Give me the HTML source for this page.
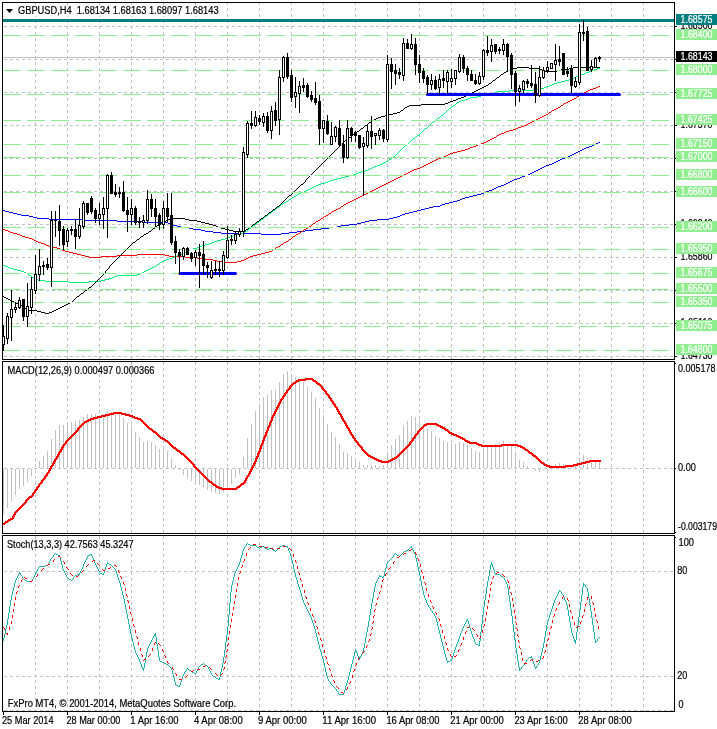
<!DOCTYPE html>
<html><head><meta charset="utf-8"><title>GBPUSD,H4</title><style>html,body{margin:0;padding:0;background:#fff;overflow:hidden}</style></head><body><svg width="717" height="729" viewBox="0 0 717 729" shape-rendering="crispEdges" style="display:block"><rect width="717" height="729" fill="#fff"/><g stroke="#c0c0c0" stroke-width="1" stroke-dasharray="3 3" fill="none"><line x1="35.5" y1="3" x2="35.5" y2="359" stroke-dashoffset="1"/><line x1="67.5" y1="3" x2="67.5" y2="359" stroke-dashoffset="1"/><line x1="99.5" y1="3" x2="99.5" y2="359" stroke-dashoffset="1"/><line x1="131.5" y1="3" x2="131.5" y2="359" stroke-dashoffset="1"/><line x1="163.5" y1="3" x2="163.5" y2="359" stroke-dashoffset="1"/><line x1="195.5" y1="3" x2="195.5" y2="359" stroke-dashoffset="1"/><line x1="227.5" y1="3" x2="227.5" y2="359" stroke-dashoffset="1"/><line x1="259.5" y1="3" x2="259.5" y2="359" stroke-dashoffset="1"/><line x1="291.5" y1="3" x2="291.5" y2="359" stroke-dashoffset="1"/><line x1="323.5" y1="3" x2="323.5" y2="359" stroke-dashoffset="1"/><line x1="355.5" y1="3" x2="355.5" y2="359" stroke-dashoffset="1"/><line x1="387.5" y1="3" x2="387.5" y2="359" stroke-dashoffset="1"/><line x1="419.5" y1="3" x2="419.5" y2="359" stroke-dashoffset="1"/><line x1="451.5" y1="3" x2="451.5" y2="359" stroke-dashoffset="1"/><line x1="483.5" y1="3" x2="483.5" y2="359" stroke-dashoffset="1"/><line x1="515.5" y1="3" x2="515.5" y2="359" stroke-dashoffset="1"/><line x1="547.5" y1="3" x2="547.5" y2="359" stroke-dashoffset="1"/><line x1="579.5" y1="3" x2="579.5" y2="359" stroke-dashoffset="1"/><line x1="611.5" y1="3" x2="611.5" y2="359" stroke-dashoffset="1"/><line x1="643.5" y1="3" x2="643.5" y2="359" stroke-dashoffset="1"/><line x1="35.5" y1="362" x2="35.5" y2="533" stroke-dashoffset="0"/><line x1="67.5" y1="362" x2="67.5" y2="533" stroke-dashoffset="0"/><line x1="99.5" y1="362" x2="99.5" y2="533" stroke-dashoffset="0"/><line x1="131.5" y1="362" x2="131.5" y2="533" stroke-dashoffset="0"/><line x1="163.5" y1="362" x2="163.5" y2="533" stroke-dashoffset="0"/><line x1="195.5" y1="362" x2="195.5" y2="533" stroke-dashoffset="0"/><line x1="227.5" y1="362" x2="227.5" y2="533" stroke-dashoffset="0"/><line x1="259.5" y1="362" x2="259.5" y2="533" stroke-dashoffset="0"/><line x1="291.5" y1="362" x2="291.5" y2="533" stroke-dashoffset="0"/><line x1="323.5" y1="362" x2="323.5" y2="533" stroke-dashoffset="0"/><line x1="355.5" y1="362" x2="355.5" y2="533" stroke-dashoffset="0"/><line x1="387.5" y1="362" x2="387.5" y2="533" stroke-dashoffset="0"/><line x1="419.5" y1="362" x2="419.5" y2="533" stroke-dashoffset="0"/><line x1="451.5" y1="362" x2="451.5" y2="533" stroke-dashoffset="0"/><line x1="483.5" y1="362" x2="483.5" y2="533" stroke-dashoffset="0"/><line x1="515.5" y1="362" x2="515.5" y2="533" stroke-dashoffset="0"/><line x1="547.5" y1="362" x2="547.5" y2="533" stroke-dashoffset="0"/><line x1="579.5" y1="362" x2="579.5" y2="533" stroke-dashoffset="0"/><line x1="611.5" y1="362" x2="611.5" y2="533" stroke-dashoffset="0"/><line x1="643.5" y1="362" x2="643.5" y2="533" stroke-dashoffset="0"/><line x1="35.5" y1="536" x2="35.5" y2="711" stroke-dashoffset="0"/><line x1="67.5" y1="536" x2="67.5" y2="711" stroke-dashoffset="0"/><line x1="99.5" y1="536" x2="99.5" y2="711" stroke-dashoffset="0"/><line x1="131.5" y1="536" x2="131.5" y2="711" stroke-dashoffset="0"/><line x1="163.5" y1="536" x2="163.5" y2="711" stroke-dashoffset="0"/><line x1="195.5" y1="536" x2="195.5" y2="711" stroke-dashoffset="0"/><line x1="227.5" y1="536" x2="227.5" y2="711" stroke-dashoffset="0"/><line x1="259.5" y1="536" x2="259.5" y2="711" stroke-dashoffset="0"/><line x1="291.5" y1="536" x2="291.5" y2="711" stroke-dashoffset="0"/><line x1="323.5" y1="536" x2="323.5" y2="711" stroke-dashoffset="0"/><line x1="355.5" y1="536" x2="355.5" y2="711" stroke-dashoffset="0"/><line x1="387.5" y1="536" x2="387.5" y2="711" stroke-dashoffset="0"/><line x1="419.5" y1="536" x2="419.5" y2="711" stroke-dashoffset="0"/><line x1="451.5" y1="536" x2="451.5" y2="711" stroke-dashoffset="0"/><line x1="483.5" y1="536" x2="483.5" y2="711" stroke-dashoffset="0"/><line x1="515.5" y1="536" x2="515.5" y2="711" stroke-dashoffset="0"/><line x1="547.5" y1="536" x2="547.5" y2="711" stroke-dashoffset="0"/><line x1="579.5" y1="536" x2="579.5" y2="711" stroke-dashoffset="0"/><line x1="611.5" y1="536" x2="611.5" y2="711" stroke-dashoffset="0"/><line x1="643.5" y1="536" x2="643.5" y2="711" stroke-dashoffset="0"/><line x1="3" y1="26.5" x2="674" y2="26.5" stroke-dashoffset="5"/><line x1="3" y1="59.5" x2="674" y2="59.5" stroke-dashoffset="5"/><line x1="3" y1="92.5" x2="674" y2="92.5" stroke-dashoffset="5"/><line x1="3" y1="125.5" x2="674" y2="125.5" stroke-dashoffset="5"/><line x1="3" y1="158.5" x2="674" y2="158.5" stroke-dashoffset="5"/><line x1="3" y1="191.5" x2="674" y2="191.5" stroke-dashoffset="5"/><line x1="3" y1="224.5" x2="674" y2="224.5" stroke-dashoffset="5"/><line x1="3" y1="257.5" x2="674" y2="257.5" stroke-dashoffset="5"/><line x1="3" y1="290.5" x2="674" y2="290.5" stroke-dashoffset="5"/><line x1="3" y1="323.5" x2="674" y2="323.5" stroke-dashoffset="5"/><line x1="3" y1="356.5" x2="674" y2="356.5" stroke-dashoffset="5"/><line x1="3" y1="468.5" x2="674" y2="468.5" stroke-dashoffset="5"/><line x1="3" y1="571.5" x2="674" y2="571.5" stroke-dashoffset="5"/><line x1="3" y1="676.5" x2="674" y2="676.5" stroke-dashoffset="5"/><line x1="3" y1="710.5" x2="674" y2="710.5" stroke-dashoffset="5"/></g><g fill="#fff"><rect x="4" y="5" width="216" height="11"/></g><path d="M598 142h2v1h-2zM596 143h2v1h-2zM594 144h2v1h-2zM592 145h2v1h-2zM589 146h3v1h-3zM586 147h3v1h-3zM584 148h2v1h-2zM582 149h2v1h-2zM580 150h2v1h-2zM578 151h2v1h-2zM576 152h2v1h-2zM574 153h2v1h-2zM572 154h2v1h-2zM570 155h2v1h-2zM568 156h2v1h-2zM565 157h3v1h-3zM562 158h3v1h-3zM560 159h2v1h-2zM558 160h2v1h-2zM556 161h2v1h-2zM554 162h2v1h-2zM552 163h2v1h-2zM549 164h3v1h-3zM546 165h3v1h-3zM544 166h2v1h-2zM542 167h2v1h-2zM540 168h2v1h-2zM538 169h2v1h-2zM536 170h2v1h-2zM534 171h2v1h-2zM532 172h2v1h-2zM530 173h2v1h-2zM528 174h2v1h-2zM525 175h3v1h-3zM522 176h3v1h-3zM520 177h2v1h-2zM517 178h3v1h-3zM514 179h3v1h-3zM512 180h2v1h-2zM510 181h2v1h-2zM508 182h2v1h-2zM506 183h2v1h-2zM504 184h2v1h-2zM501 185h3v1h-3zM498 186h3v1h-3zM496 187h2v1h-2zM494 188h2v1h-2zM492 189h2v1h-2zM489 190h3v1h-3zM486 191h3v1h-3zM484 192h2v1h-2zM481 193h3v1h-3zM477 194h4v1h-4zM473 195h4v1h-4zM469 196h4v1h-4zM465 197h4v1h-4zM462 198h3v1h-3zM460 199h2v1h-2zM457 200h3v1h-3zM453 201h4v1h-4zM449 202h4v1h-4zM445 203h4v1h-4zM442 204h3v1h-3zM440 205h2v1h-2zM433 206h7v1h-7zM429 207h4v1h-4zM425 208h4v1h-4zM421 209h4v1h-4zM3 210h2v1h-2zM417 210h4v1h-4zM5 211h4v1h-4zM413 211h4v1h-4zM9 212h4v1h-4zM409 212h4v1h-4zM13 213h4v1h-4zM405 213h4v1h-4zM17 214h4v1h-4zM402 214h3v1h-3zM21 215h8v1h-8zM400 215h2v1h-2zM29 216h4v1h-4zM397 216h3v1h-3zM33 217h4v1h-4zM393 217h4v1h-4zM37 218h12v1h-12zM389 218h4v1h-4zM49 219h36v1h-36zM377 219h12v1h-12zM85 220h32v1h-32zM369 220h8v1h-8zM117 221h28v1h-28zM365 221h4v1h-4zM145 222h23v1h-23zM361 222h4v1h-4zM168 223h2v1h-2zM357 223h4v1h-4zM170 224h3v1h-3zM349 224h8v1h-8zM173 225h4v1h-4zM341 225h8v1h-8zM177 226h4v1h-4zM337 226h4v1h-4zM181 227h8v1h-8zM329 227h8v1h-8zM189 228h4v1h-4zM321 228h8v1h-8zM193 229h8v1h-8zM313 229h8v1h-8zM201 230h4v1h-4zM305 230h8v1h-8zM205 231h8v1h-8zM297 231h8v1h-8zM213 232h8v1h-8zM289 232h8v1h-8zM221 233h40v1h-40zM281 233h8v1h-8zM261 234h20v1h-20z" fill="#0000ff"/><path d="M598 86h2v1h-2zM596 87h2v1h-2zM593 88h3v1h-3zM590 89h3v1h-3zM588 90h2v1h-2zM586 91h2v1h-2zM584 92h2v1h-2zM582 93h2v1h-2zM580 94h2v1h-2zM579 95h1v1h-1zM577 96h2v1h-2zM576 97h1v1h-1zM574 98h2v1h-2zM572 99h2v1h-2zM570 100h2v1h-2zM568 101h2v1h-2zM566 102h2v1h-2zM564 103h2v1h-2zM563 104h1v1h-1zM561 105h2v1h-2zM560 106h1v1h-1zM558 107h2v1h-2zM556 108h2v1h-2zM554 109h2v1h-2zM552 110h2v1h-2zM551 111h1v1h-1zM549 112h2v1h-2zM548 113h1v1h-1zM546 114h2v1h-2zM544 115h2v1h-2zM542 116h2v1h-2zM540 117h2v1h-2zM538 118h2v1h-2zM536 119h2v1h-2zM534 120h2v1h-2zM532 121h2v1h-2zM530 122h2v1h-2zM528 123h2v1h-2zM526 124h2v1h-2zM524 125h2v1h-2zM521 126h3v1h-3zM518 127h3v1h-3zM516 128h2v1h-2zM513 129h3v1h-3zM509 130h4v1h-4zM506 131h3v1h-3zM504 132h2v1h-2zM501 133h3v1h-3zM499 134h2v1h-2zM497 135h2v1h-2zM496 136h1v1h-1zM494 137h2v1h-2zM492 138h2v1h-2zM490 139h2v1h-2zM488 140h2v1h-2zM486 141h2v1h-2zM484 142h2v1h-2zM481 143h3v1h-3zM478 144h3v1h-3zM476 145h2v1h-2zM473 146h3v1h-3zM470 147h3v1h-3zM468 148h2v1h-2zM465 149h3v1h-3zM461 150h4v1h-4zM457 151h4v1h-4zM453 152h4v1h-4zM450 153h3v1h-3zM448 154h2v1h-2zM446 155h2v1h-2zM444 156h2v1h-2zM441 157h3v1h-3zM438 158h3v1h-3zM436 159h2v1h-2zM434 160h2v1h-2zM432 161h2v1h-2zM430 162h2v1h-2zM428 163h2v1h-2zM426 164h2v1h-2zM424 165h2v1h-2zM422 166h2v1h-2zM420 167h2v1h-2zM417 168h3v1h-3zM414 169h3v1h-3zM412 170h2v1h-2zM410 171h2v1h-2zM408 172h2v1h-2zM406 173h2v1h-2zM404 174h2v1h-2zM402 175h2v1h-2zM400 176h2v1h-2zM398 177h2v1h-2zM396 178h2v1h-2zM394 179h2v1h-2zM392 180h2v1h-2zM390 181h2v1h-2zM388 182h2v1h-2zM386 183h2v1h-2zM384 184h2v1h-2zM382 185h2v1h-2zM380 186h2v1h-2zM378 187h2v1h-2zM376 188h2v1h-2zM374 189h2v1h-2zM372 190h2v1h-2zM370 191h2v1h-2zM368 192h2v1h-2zM366 193h2v1h-2zM364 194h2v1h-2zM362 195h2v1h-2zM360 196h2v1h-2zM358 197h2v1h-2zM356 198h2v1h-2zM354 199h2v1h-2zM352 200h2v1h-2zM350 201h2v1h-2zM348 202h2v1h-2zM346 203h2v1h-2zM344 204h2v1h-2zM343 205h1v1h-1zM341 206h2v1h-2zM340 207h1v1h-1zM338 208h2v1h-2zM336 209h2v1h-2zM334 210h2v1h-2zM332 211h2v1h-2zM331 212h1v1h-1zM329 213h2v1h-2zM328 214h1v1h-1zM326 215h2v1h-2zM324 216h2v1h-2zM323 217h1v1h-1zM321 218h2v1h-2zM320 219h1v1h-1zM318 220h2v1h-2zM316 221h2v1h-2zM315 222h1v1h-1zM313 223h2v1h-2zM312 224h1v1h-1zM311 225h1v1h-1zM309 226h2v1h-2zM308 227h1v1h-1zM306 228h2v1h-2zM3 229h2v1h-2zM304 229h2v1h-2zM5 230h3v1h-3zM303 230h1v1h-1zM8 231h2v1h-2zM301 231h2v1h-2zM10 232h3v1h-3zM300 232h1v1h-1zM13 233h4v1h-4zM298 233h2v1h-2zM17 234h3v1h-3zM296 234h2v1h-2zM20 235h2v1h-2zM295 235h1v1h-1zM22 236h3v1h-3zM293 236h2v1h-2zM25 237h4v1h-4zM292 237h1v1h-1zM29 238h3v1h-3zM291 238h1v1h-1zM32 239h2v1h-2zM289 239h2v1h-2zM34 240h2v1h-2zM288 240h1v1h-1zM36 241h2v1h-2zM286 241h2v1h-2zM38 242h3v1h-3zM284 242h2v1h-2zM41 243h3v1h-3zM283 243h1v1h-1zM44 244h2v1h-2zM281 244h2v1h-2zM46 245h3v1h-3zM280 245h1v1h-1zM49 246h4v1h-4zM278 246h2v1h-2zM53 247h4v1h-4zM276 247h2v1h-2zM57 248h3v1h-3zM275 248h1v1h-1zM60 249h2v1h-2zM273 249h2v1h-2zM62 250h3v1h-3zM272 250h1v1h-1zM65 251h4v1h-4zM269 251h3v1h-3zM69 252h4v1h-4zM265 252h4v1h-4zM73 253h4v1h-4zM261 253h4v1h-4zM77 254h4v1h-4zM137 254h28v1h-28zM257 254h4v1h-4zM81 255h4v1h-4zM117 255h20v1h-20zM165 255h4v1h-4zM253 255h4v1h-4zM85 256h4v1h-4zM101 256h16v1h-16zM169 256h16v1h-16zM250 256h3v1h-3zM89 257h12v1h-12zM185 257h12v1h-12zM248 257h2v1h-2zM197 258h8v1h-8zM246 258h2v1h-2zM205 259h8v1h-8zM244 259h2v1h-2zM213 260h4v1h-4zM241 260h3v1h-3zM217 261h8v1h-8zM237 261h4v1h-4zM225 262h12v1h-12z" fill="#ff0000"/><path d="M597 68h3v1h-3zM594 69h3v1h-3zM592 70h2v1h-2zM589 71h3v1h-3zM586 72h3v1h-3zM584 73h2v1h-2zM581 74h3v1h-3zM578 75h3v1h-3zM576 76h2v1h-2zM574 77h2v1h-2zM572 78h2v1h-2zM569 79h3v1h-3zM565 80h4v1h-4zM561 81h4v1h-4zM557 82h4v1h-4zM554 83h3v1h-3zM552 84h2v1h-2zM549 85h3v1h-3zM546 86h3v1h-3zM544 87h2v1h-2zM541 88h3v1h-3zM533 89h8v1h-8zM509 90h24v1h-24zM497 91h12v1h-12zM494 92h3v1h-3zM492 93h2v1h-2zM485 94h7v1h-7zM481 95h4v1h-4zM477 96h4v1h-4zM470 97h7v1h-7zM468 98h2v1h-2zM465 99h3v1h-3zM461 100h4v1h-4zM459 101h2v1h-2zM457 102h2v1h-2zM456 103h1v1h-1zM455 104h1v1h-1zM453 105h2v1h-2zM452 106h1v1h-1zM451 107h1v1h-1zM449 108h2v1h-2zM448 109h1v1h-1zM447 110h1v1h-1zM446 111h1v1h-1zM445 112h1v1h-1zM444 113h1v1h-1zM443 114h1v1h-1zM441 115h2v1h-2zM440 116h1v1h-1zM439 117h1v1h-1zM437 118h2v1h-2zM436 119h1v1h-1zM435 120h1v1h-1zM433 121h2v1h-2zM432 122h1v1h-1zM431 123h1v1h-1zM430 124h1v1h-1zM429 125h1v1h-1zM428 126h1v1h-1zM427 127h1v1h-1zM425 128h2v1h-2zM424 129h1v1h-1zM423 130h1v1h-1zM422 131h1v1h-1zM421 132h1v1h-1zM420 133h1v1h-1zM419 134h1v1h-1zM417 135h2v1h-2zM416 136h1v1h-1zM415 137h1v1h-1zM413 138h2v1h-2zM412 139h1v1h-1zM411 140h1v1h-1zM410 141h1v1h-1zM409 142h1v1h-1zM408 143h1v1h-1zM407 144h1v1h-1zM405 145h2v1h-2zM404 146h1v1h-1zM403 147h1v1h-1zM402 148h1v1h-1zM401 149h1v1h-1zM400 150h1v1h-1zM399 151h1v1h-1zM398 152h1v1h-1zM397 153h1v1h-1zM396 154h1v1h-1zM395 155h1v1h-1zM393 156h2v1h-2zM392 157h1v1h-1zM391 158h1v1h-1zM389 159h2v1h-2zM388 160h1v1h-1zM386 161h2v1h-2zM384 162h2v1h-2zM382 163h2v1h-2zM380 164h2v1h-2zM377 165h3v1h-3zM374 166h3v1h-3zM372 167h2v1h-2zM370 168h2v1h-2zM368 169h2v1h-2zM365 170h3v1h-3zM361 171h4v1h-4zM358 172h3v1h-3zM356 173h2v1h-2zM353 174h3v1h-3zM349 175h4v1h-4zM345 176h4v1h-4zM341 177h4v1h-4zM337 178h4v1h-4zM333 179h4v1h-4zM330 180h3v1h-3zM328 181h2v1h-2zM325 182h3v1h-3zM321 183h4v1h-4zM318 184h3v1h-3zM316 185h2v1h-2zM314 186h2v1h-2zM312 187h2v1h-2zM310 188h2v1h-2zM308 189h2v1h-2zM306 190h2v1h-2zM304 191h2v1h-2zM301 192h3v1h-3zM299 193h2v1h-2zM297 194h2v1h-2zM296 195h1v1h-1zM294 196h2v1h-2zM292 197h2v1h-2zM291 198h1v1h-1zM289 199h2v1h-2zM288 200h1v1h-1zM286 201h2v1h-2zM284 202h2v1h-2zM283 203h1v1h-1zM281 204h2v1h-2zM280 205h1v1h-1zM279 206h1v1h-1zM277 207h2v1h-2zM276 208h1v1h-1zM275 209h1v1h-1zM273 210h2v1h-2zM272 211h1v1h-1zM271 212h1v1h-1zM269 213h2v1h-2zM268 214h1v1h-1zM267 215h1v1h-1zM265 216h2v1h-2zM264 217h1v1h-1zM263 218h1v1h-1zM261 219h2v1h-2zM260 220h1v1h-1zM259 221h1v1h-1zM257 222h2v1h-2zM256 223h1v1h-1zM255 224h1v1h-1zM253 225h2v1h-2zM252 226h1v1h-1zM251 227h1v1h-1zM249 228h2v1h-2zM248 229h1v1h-1zM247 230h1v1h-1zM245 231h2v1h-2zM244 232h1v1h-1zM241 233h3v1h-3zM237 234h4v1h-4zM233 235h4v1h-4zM230 236h3v1h-3zM228 237h2v1h-2zM225 238h3v1h-3zM221 239h4v1h-4zM217 240h4v1h-4zM214 241h3v1h-3zM212 242h2v1h-2zM209 243h3v1h-3zM205 244h4v1h-4zM202 245h3v1h-3zM200 246h2v1h-2zM197 247h3v1h-3zM193 248h4v1h-4zM190 249h3v1h-3zM188 250h2v1h-2zM186 251h2v1h-2zM184 252h2v1h-2zM182 253h2v1h-2zM180 254h2v1h-2zM177 255h3v1h-3zM174 256h3v1h-3zM172 257h2v1h-2zM169 258h3v1h-3zM166 259h3v1h-3zM164 260h2v1h-2zM162 261h2v1h-2zM160 262h2v1h-2zM159 263h1v1h-1zM157 264h2v1h-2zM3 265h2v1h-2zM156 265h1v1h-1zM5 266h3v1h-3zM154 266h2v1h-2zM8 267h2v1h-2zM152 267h2v1h-2zM10 268h3v1h-3zM150 268h2v1h-2zM13 269h4v1h-4zM148 269h2v1h-2zM17 270h4v1h-4zM146 270h2v1h-2zM21 271h3v1h-3zM144 271h2v1h-2zM24 272h2v1h-2zM142 272h2v1h-2zM26 273h2v1h-2zM140 273h2v1h-2zM28 274h1v1h-1zM137 274h3v1h-3zM29 275h2v1h-2zM117 275h20v1h-20zM31 276h1v1h-1zM114 276h3v1h-3zM32 277h2v1h-2zM112 277h2v1h-2zM34 278h2v1h-2zM109 278h3v1h-3zM36 279h2v1h-2zM105 279h4v1h-4zM38 280h7v1h-7zM101 280h4v1h-4zM45 281h24v1h-24zM89 281h12v1h-12zM69 282h20v1h-20z" fill="#00f07a"/><path d="M517 67h12v1h-12zM573 67h27v1h-27zM513 68h4v1h-4zM529 68h11v1h-11zM569 68h4v1h-4zM510 69h3v1h-3zM540 69h2v1h-2zM561 69h8v1h-8zM508 70h2v1h-2zM542 70h3v1h-3zM557 70h4v1h-4zM506 71h2v1h-2zM545 71h12v1h-12zM504 72h2v1h-2zM503 73h1v1h-1zM501 74h2v1h-2zM500 75h1v1h-1zM499 76h1v1h-1zM497 77h2v1h-2zM496 78h1v1h-1zM495 79h1v1h-1zM493 80h2v1h-2zM492 81h1v1h-1zM491 82h1v1h-1zM489 83h2v1h-2zM488 84h1v1h-1zM486 85h2v1h-2zM484 86h2v1h-2zM482 87h2v1h-2zM480 88h2v1h-2zM478 89h2v1h-2zM476 90h2v1h-2zM474 91h2v1h-2zM472 92h2v1h-2zM470 93h2v1h-2zM468 94h2v1h-2zM466 95h2v1h-2zM464 96h2v1h-2zM461 97h3v1h-3zM458 98h3v1h-3zM456 99h2v1h-2zM453 100h3v1h-3zM450 101h3v1h-3zM448 102h2v1h-2zM445 103h3v1h-3zM421 104h24v1h-24zM409 105h12v1h-12zM407 106h2v1h-2zM405 107h2v1h-2zM404 108h1v1h-1zM403 109h1v1h-1zM401 110h2v1h-2zM400 111h1v1h-1zM397 112h3v1h-3zM393 113h4v1h-4zM389 114h4v1h-4zM385 115h4v1h-4zM381 116h4v1h-4zM378 117h3v1h-3zM376 118h2v1h-2zM374 119h2v1h-2zM372 120h2v1h-2zM371 121h1v1h-1zM369 122h2v1h-2zM368 123h1v1h-1zM367 124h1v1h-1zM365 125h2v1h-2zM364 126h1v1h-1zM363 127h1v1h-1zM361 128h2v1h-2zM360 129h1v1h-1zM359 130h1v1h-1zM357 131h2v1h-2zM356 132h1v1h-1zM355 133h1v1h-1zM353 134h2v1h-2zM352 135h1v1h-1zM351 136h1v1h-1zM349 137h2v1h-2zM348 138h1v1h-1zM347 139h1v1h-1zM345 140h2v1h-2zM344 141h1v1h-1zM343 142h1v1h-1zM342 143h1v1h-1zM341 144h1v1h-1zM340 145h1v1h-1zM339 146h1v1h-1zM338 147h1v1h-1zM337 148h1v1h-1zM336 149h1v1h-1zM335 150h1v1h-1zM334 151h1v1h-1zM333 152h1v1h-1zM332 153h1v1h-1zM331 154h1v1h-1zM330 155h1v1h-1zM329 156h1v1h-1zM328 157h1v1h-1zM327 158h1v1h-1zM326 159h1v1h-1zM325 160h1v1h-1zM324 161h1v1h-1zM323 162h1v1h-1zM322 163h1v1h-1zM321 164h1v1h-1zM320 165h1v1h-1zM319 166h1v1h-1zM318 167h1v1h-1zM317 168h1v1h-1zM316 169h1v1h-1zM315 170h1v1h-1zM314 171h1v1h-1zM313 172h1v1h-1zM312 173h1v1h-1zM311 174h1v1h-1zM310 175h1v1h-1zM309 176h1v1h-1zM308 177h1v1h-1zM307 178h1v1h-1zM306 179h1v1h-1zM305 180h1v1h-1zM305 181h1v1h-1zM304 182h1v1h-1zM303 183h1v1h-1zM301 184h2v1h-2zM300 185h1v1h-1zM299 186h1v1h-1zM298 187h1v1h-1zM297 188h1v1h-1zM296 189h1v1h-1zM295 190h1v1h-1zM294 191h1v1h-1zM293 192h1v1h-1zM292 193h1v1h-1zM291 194h1v1h-1zM289 195h2v1h-2zM288 196h1v1h-1zM287 197h1v1h-1zM286 198h1v1h-1zM285 199h1v1h-1zM284 200h1v1h-1zM283 201h1v1h-1zM282 202h1v1h-1zM281 203h1v1h-1zM280 204h1v1h-1zM279 205h1v1h-1zM277 206h2v1h-2zM276 207h1v1h-1zM275 208h1v1h-1zM273 209h2v1h-2zM272 210h1v1h-1zM271 211h1v1h-1zM269 212h2v1h-2zM268 213h1v1h-1zM267 214h1v1h-1zM265 215h2v1h-2zM264 216h1v1h-1zM263 217h1v1h-1zM170 218h15v1h-15zM261 218h2v1h-2zM168 219h2v1h-2zM185 219h4v1h-4zM260 219h1v1h-1zM166 220h2v1h-2zM189 220h8v1h-8zM259 220h1v1h-1zM164 221h2v1h-2zM197 221h4v1h-4zM257 221h2v1h-2zM162 222h2v1h-2zM201 222h4v1h-4zM256 222h1v1h-1zM160 223h2v1h-2zM205 223h4v1h-4zM255 223h1v1h-1zM159 224h1v1h-1zM209 224h4v1h-4zM253 224h2v1h-2zM157 225h2v1h-2zM213 225h3v1h-3zM252 225h1v1h-1zM156 226h1v1h-1zM216 226h2v1h-2zM251 226h1v1h-1zM155 227h1v1h-1zM218 227h3v1h-3zM249 227h2v1h-2zM153 228h2v1h-2zM221 228h4v1h-4zM248 228h1v1h-1zM152 229h1v1h-1zM225 229h4v1h-4zM246 229h2v1h-2zM151 230h1v1h-1zM229 230h4v1h-4zM244 230h2v1h-2zM149 231h2v1h-2zM233 231h11v1h-11zM148 232h1v1h-1zM146 233h2v1h-2zM144 234h2v1h-2zM143 235h1v1h-1zM141 236h2v1h-2zM140 237h1v1h-1zM139 238h1v1h-1zM137 239h2v1h-2zM136 240h1v1h-1zM135 241h1v1h-1zM133 242h2v1h-2zM132 243h1v1h-1zM131 244h1v1h-1zM130 245h1v1h-1zM129 246h1v1h-1zM128 247h1v1h-1zM127 248h1v1h-1zM126 249h1v1h-1zM125 250h1v1h-1zM124 251h1v1h-1zM123 252h1v1h-1zM122 253h1v1h-1zM121 254h1v1h-1zM120 255h1v1h-1zM119 256h1v1h-1zM118 257h1v1h-1zM117 258h1v1h-1zM116 259h1v1h-1zM115 260h1v1h-1zM114 261h1v1h-1zM113 262h1v1h-1zM112 263h1v1h-1zM111 264h1v1h-1zM110 265h1v1h-1zM109 266h1v1h-1zM109 267h1v1h-1zM108 268h1v1h-1zM107 269h1v1h-1zM106 270h1v1h-1zM105 271h1v1h-1zM105 272h1v1h-1zM104 273h1v1h-1zM103 274h1v1h-1zM102 275h1v1h-1zM101 276h1v1h-1zM100 277h1v1h-1zM99 278h1v1h-1zM98 279h1v1h-1zM97 280h1v1h-1zM96 281h1v1h-1zM95 282h1v1h-1zM94 283h1v1h-1zM93 284h1v1h-1zM92 285h1v1h-1zM91 286h1v1h-1zM89 287h2v1h-2zM88 288h1v1h-1zM87 289h1v1h-1zM85 290h2v1h-2zM84 291h1v1h-1zM83 292h1v1h-1zM81 293h2v1h-2zM80 294h1v1h-1zM79 295h1v1h-1zM3 296h1v1h-1zM77 296h2v1h-2zM4 297h2v1h-2zM76 297h1v1h-1zM6 298h2v1h-2zM75 298h1v1h-1zM8 299h2v1h-2zM74 299h1v1h-1zM10 300h2v1h-2zM73 300h1v1h-1zM12 301h2v1h-2zM72 301h1v1h-1zM14 302h2v1h-2zM70 302h2v1h-2zM16 303h2v1h-2zM68 303h2v1h-2zM18 304h2v1h-2zM66 304h2v1h-2zM20 305h2v1h-2zM64 305h2v1h-2zM22 306h2v1h-2zM62 306h2v1h-2zM24 307h1v1h-1zM60 307h2v1h-2zM25 308h2v1h-2zM58 308h2v1h-2zM27 309h2v1h-2zM56 309h2v1h-2zM29 310h8v1h-8zM54 310h2v1h-2zM37 311h4v1h-4zM52 311h2v1h-2zM41 312h4v1h-4zM49 312h3v1h-3zM45 313h4v1h-4z" fill="#000000"/><g fill="#fff"><rect x="3" y="35" width="671" height="1"/><rect x="3" y="70" width="671" height="1"/><rect x="3" y="94" width="671" height="1"/><rect x="3" y="120" width="671" height="1"/><rect x="3" y="144" width="671" height="1"/><rect x="3" y="157" width="671" height="1"/><rect x="3" y="175" width="671" height="1"/><rect x="3" y="192" width="671" height="1"/><rect x="3" y="227" width="671" height="1"/><rect x="3" y="249" width="671" height="1"/><rect x="3" y="273" width="671" height="1"/><rect x="3" y="289" width="671" height="1"/><rect x="3" y="302" width="671" height="1"/><rect x="3" y="326" width="671" height="1"/><rect x="3" y="350" width="671" height="1"/></g><g stroke="#90ee90" stroke-width="1" stroke-dasharray="18 6" fill="none"><line x1="3" y1="35.5" x2="674" y2="35.5"/><line x1="3" y1="70.5" x2="674" y2="70.5"/><line x1="3" y1="94.5" x2="674" y2="94.5"/><line x1="3" y1="120.5" x2="674" y2="120.5"/><line x1="3" y1="144.5" x2="674" y2="144.5"/><line x1="3" y1="157.5" x2="674" y2="157.5"/><line x1="3" y1="175.5" x2="674" y2="175.5"/><line x1="3" y1="192.5" x2="674" y2="192.5"/><line x1="3" y1="227.5" x2="674" y2="227.5"/><line x1="3" y1="249.5" x2="674" y2="249.5"/><line x1="3" y1="273.5" x2="674" y2="273.5"/><line x1="3" y1="289.5" x2="674" y2="289.5"/><line x1="3" y1="302.5" x2="674" y2="302.5"/><line x1="3" y1="326.5" x2="674" y2="326.5"/><line x1="3" y1="350.5" x2="674" y2="350.5"/></g><rect x="3" y="57" width="671" height="1" fill="#c0c0c0"/><rect x="3" y="19" width="671" height="3" fill="#008080"/><g stroke="#0000ff" stroke-width="3" stroke-linecap="round" shape-rendering="auto"><line x1="180" y1="273.5" x2="235.5" y2="273.5"/><line x1="427.5" y1="94.5" x2="619.5" y2="94.5"/></g><g fill="#000"><rect x="3" y="325" width="1" height="26"/><rect x="2" y="336" width="3" height="9"/><rect x="3" y="337" width="1" height="7" fill="#fff"/><rect x="7" y="313" width="1" height="31"/><rect x="6" y="316" width="3" height="23"/><rect x="7" y="317" width="1" height="21" fill="#fff"/><rect x="11" y="290" width="1" height="51"/><rect x="10" y="309" width="3" height="9"/><rect x="11" y="310" width="1" height="7" fill="#fff"/><rect x="15" y="302" width="1" height="11"/><rect x="14" y="307" width="3" height="3"/><rect x="15" y="308" width="1" height="1" fill="#fff"/><rect x="19" y="297" width="1" height="12"/><rect x="18" y="300" width="3" height="8"/><rect x="19" y="301" width="1" height="6" fill="#fff"/><rect x="23" y="299" width="1" height="22"/><rect x="22" y="299" width="3" height="18"/><rect x="27" y="283" width="1" height="44"/><rect x="26" y="306" width="3" height="11"/><rect x="27" y="307" width="1" height="9" fill="#fff"/><rect x="31" y="277" width="1" height="37"/><rect x="30" y="289" width="3" height="19"/><rect x="31" y="290" width="1" height="17" fill="#fff"/><rect x="35" y="255" width="1" height="39"/><rect x="34" y="274" width="3" height="17"/><rect x="35" y="275" width="1" height="15" fill="#fff"/><rect x="39" y="249" width="1" height="32"/><rect x="38" y="266" width="3" height="9"/><rect x="39" y="267" width="1" height="7" fill="#fff"/><rect x="43" y="261" width="1" height="14"/><rect x="42" y="265" width="3" height="2"/><rect x="47" y="258" width="1" height="12"/><rect x="46" y="264" width="3" height="4"/><rect x="51" y="211" width="1" height="76"/><rect x="50" y="220" width="3" height="48"/><rect x="51" y="221" width="1" height="46" fill="#fff"/><rect x="55" y="211" width="1" height="26"/><rect x="54" y="220" width="3" height="1"/><rect x="59" y="205" width="1" height="41"/><rect x="58" y="221" width="3" height="10"/><rect x="63" y="226" width="1" height="24"/><rect x="62" y="229" width="3" height="16"/><rect x="67" y="228" width="1" height="19"/><rect x="66" y="230" width="3" height="12"/><rect x="67" y="231" width="1" height="10" fill="#fff"/><rect x="71" y="226" width="1" height="9"/><rect x="70" y="229" width="3" height="2"/><rect x="75" y="220" width="1" height="29"/><rect x="74" y="229" width="3" height="8"/><rect x="79" y="208" width="1" height="31"/><rect x="78" y="225" width="3" height="12"/><rect x="79" y="226" width="1" height="10" fill="#fff"/><rect x="83" y="201" width="1" height="28"/><rect x="82" y="203" width="3" height="24"/><rect x="83" y="204" width="1" height="22" fill="#fff"/><rect x="87" y="203" width="1" height="12"/><rect x="86" y="203" width="3" height="10"/><rect x="91" y="196" width="1" height="18"/><rect x="90" y="198" width="3" height="14"/><rect x="95" y="208" width="1" height="15"/><rect x="94" y="210" width="3" height="9"/><rect x="99" y="203" width="1" height="22"/><rect x="98" y="214" width="3" height="5"/><rect x="99" y="215" width="1" height="3" fill="#fff"/><rect x="103" y="197" width="1" height="32"/><rect x="102" y="208" width="3" height="7"/><rect x="103" y="209" width="1" height="5" fill="#fff"/><rect x="107" y="174" width="1" height="64"/><rect x="106" y="175" width="3" height="34"/><rect x="107" y="176" width="1" height="32" fill="#fff"/><rect x="111" y="172" width="1" height="22"/><rect x="110" y="175" width="3" height="19"/><rect x="115" y="184" width="1" height="13"/><rect x="114" y="192" width="3" height="3"/><rect x="119" y="187" width="1" height="11"/><rect x="118" y="192" width="3" height="2"/><rect x="123" y="181" width="1" height="31"/><rect x="122" y="192" width="3" height="19"/><rect x="127" y="197" width="1" height="35"/><rect x="126" y="210" width="3" height="5"/><rect x="131" y="199" width="1" height="26"/><rect x="130" y="208" width="3" height="7"/><rect x="131" y="209" width="1" height="5" fill="#fff"/><rect x="135" y="206" width="1" height="19"/><rect x="134" y="208" width="3" height="15"/><rect x="139" y="217" width="1" height="11"/><rect x="138" y="221" width="3" height="2"/><rect x="143" y="215" width="1" height="13"/><rect x="142" y="220" width="3" height="3"/><rect x="143" y="221" width="1" height="1" fill="#fff"/><rect x="147" y="190" width="1" height="34"/><rect x="146" y="199" width="3" height="22"/><rect x="147" y="200" width="1" height="20" fill="#fff"/><rect x="151" y="194" width="1" height="23"/><rect x="150" y="199" width="3" height="10"/><rect x="155" y="199" width="1" height="28"/><rect x="154" y="208" width="3" height="9"/><rect x="159" y="213" width="1" height="17"/><rect x="158" y="215" width="3" height="10"/><rect x="163" y="201" width="1" height="28"/><rect x="162" y="208" width="3" height="17"/><rect x="163" y="209" width="1" height="15" fill="#fff"/><rect x="167" y="193" width="1" height="29"/><rect x="166" y="208" width="3" height="9"/><rect x="171" y="193" width="1" height="52"/><rect x="170" y="215" width="3" height="28"/><rect x="175" y="236" width="1" height="28"/><rect x="174" y="241" width="3" height="12"/><rect x="179" y="249" width="1" height="25"/><rect x="178" y="252" width="3" height="4"/><rect x="183" y="247" width="1" height="13"/><rect x="182" y="248" width="3" height="9"/><rect x="183" y="249" width="1" height="7" fill="#fff"/><rect x="187" y="247" width="1" height="8"/><rect x="186" y="248" width="3" height="7"/><rect x="191" y="252" width="1" height="10"/><rect x="190" y="253" width="3" height="6"/><rect x="195" y="250" width="1" height="16"/><rect x="194" y="252" width="3" height="6"/><rect x="195" y="253" width="1" height="4" fill="#fff"/><rect x="199" y="244" width="1" height="44"/><rect x="198" y="252" width="3" height="4"/><rect x="203" y="241" width="1" height="34"/><rect x="202" y="254" width="3" height="12"/><rect x="207" y="262" width="1" height="16"/><rect x="206" y="265" width="3" height="3"/><rect x="211" y="261" width="1" height="18"/><rect x="210" y="270" width="3" height="8"/><rect x="211" y="271" width="1" height="6" fill="#fff"/><rect x="215" y="261" width="1" height="14"/><rect x="214" y="269" width="3" height="2"/><rect x="219" y="261" width="1" height="16"/><rect x="218" y="269" width="3" height="2"/><rect x="223" y="251" width="1" height="24"/><rect x="222" y="255" width="3" height="16"/><rect x="223" y="256" width="1" height="14" fill="#fff"/><rect x="227" y="226" width="1" height="33"/><rect x="226" y="240" width="3" height="18"/><rect x="227" y="241" width="1" height="16" fill="#fff"/><rect x="231" y="235" width="1" height="10"/><rect x="230" y="239" width="3" height="2"/><rect x="235" y="232" width="1" height="12"/><rect x="234" y="234" width="3" height="7"/><rect x="235" y="235" width="1" height="5" fill="#fff"/><rect x="239" y="228" width="1" height="9"/><rect x="238" y="231" width="3" height="4"/><rect x="239" y="232" width="1" height="2" fill="#fff"/><rect x="243" y="147" width="1" height="90"/><rect x="242" y="152" width="3" height="80"/><rect x="243" y="153" width="1" height="78" fill="#fff"/><rect x="247" y="121" width="1" height="37"/><rect x="246" y="123" width="3" height="32"/><rect x="247" y="124" width="1" height="30" fill="#fff"/><rect x="251" y="111" width="1" height="18"/><rect x="250" y="123" width="3" height="3"/><rect x="255" y="111" width="1" height="16"/><rect x="254" y="117" width="3" height="9"/><rect x="255" y="118" width="1" height="7" fill="#fff"/><rect x="259" y="115" width="1" height="10"/><rect x="258" y="118" width="3" height="4"/><rect x="263" y="113" width="1" height="14"/><rect x="262" y="116" width="3" height="7"/><rect x="263" y="117" width="1" height="5" fill="#fff"/><rect x="267" y="112" width="1" height="21"/><rect x="266" y="116" width="3" height="15"/><rect x="271" y="106" width="1" height="33"/><rect x="270" y="111" width="3" height="20"/><rect x="271" y="112" width="1" height="18" fill="#fff"/><rect x="275" y="102" width="1" height="24"/><rect x="274" y="110" width="3" height="11"/><rect x="279" y="70" width="1" height="65"/><rect x="278" y="77" width="3" height="43"/><rect x="279" y="78" width="1" height="41" fill="#fff"/><rect x="283" y="56" width="1" height="26"/><rect x="282" y="57" width="3" height="21"/><rect x="283" y="58" width="1" height="19" fill="#fff"/><rect x="287" y="53" width="1" height="26"/><rect x="286" y="57" width="3" height="20"/><rect x="291" y="70" width="1" height="32"/><rect x="290" y="75" width="3" height="23"/><rect x="295" y="77" width="1" height="31"/><rect x="294" y="92" width="3" height="5"/><rect x="295" y="93" width="1" height="3" fill="#fff"/><rect x="299" y="81" width="1" height="32"/><rect x="298" y="86" width="3" height="8"/><rect x="299" y="87" width="1" height="6" fill="#fff"/><rect x="303" y="78" width="1" height="14"/><rect x="302" y="85" width="3" height="3"/><rect x="307" y="83" width="1" height="15"/><rect x="306" y="85" width="3" height="12"/><rect x="311" y="91" width="1" height="11"/><rect x="310" y="95" width="3" height="5"/><rect x="315" y="82" width="1" height="23"/><rect x="314" y="98" width="3" height="5"/><rect x="319" y="95" width="1" height="50"/><rect x="318" y="101" width="3" height="28"/><rect x="323" y="120" width="1" height="23"/><rect x="322" y="120" width="3" height="9"/><rect x="323" y="121" width="1" height="7" fill="#fff"/><rect x="327" y="115" width="1" height="20"/><rect x="326" y="121" width="3" height="13"/><rect x="331" y="122" width="1" height="23"/><rect x="330" y="136" width="3" height="9"/><rect x="331" y="137" width="1" height="7" fill="#fff"/><rect x="335" y="126" width="1" height="16"/><rect x="334" y="127" width="3" height="10"/><rect x="335" y="128" width="1" height="8" fill="#fff"/><rect x="339" y="120" width="1" height="26"/><rect x="338" y="128" width="3" height="17"/><rect x="343" y="135" width="1" height="28"/><rect x="342" y="144" width="3" height="14"/><rect x="347" y="120" width="1" height="39"/><rect x="346" y="128" width="3" height="30"/><rect x="347" y="129" width="1" height="28" fill="#fff"/><rect x="351" y="127" width="1" height="15"/><rect x="350" y="128" width="3" height="8"/><rect x="355" y="131" width="1" height="11"/><rect x="354" y="132" width="3" height="4"/><rect x="359" y="135" width="1" height="14"/><rect x="358" y="135" width="3" height="13"/><rect x="363" y="137" width="1" height="59"/><rect x="362" y="143" width="3" height="4"/><rect x="363" y="144" width="1" height="2" fill="#fff"/><rect x="367" y="125" width="1" height="23"/><rect x="366" y="131" width="3" height="15"/><rect x="367" y="132" width="1" height="13" fill="#fff"/><rect x="371" y="116" width="1" height="33"/><rect x="370" y="131" width="3" height="6"/><rect x="375" y="133" width="1" height="12"/><rect x="374" y="133" width="3" height="3"/><rect x="375" y="134" width="1" height="1" fill="#fff"/><rect x="379" y="128" width="1" height="12"/><rect x="378" y="130" width="3" height="6"/><rect x="379" y="131" width="1" height="4" fill="#fff"/><rect x="383" y="129" width="1" height="13"/><rect x="382" y="130" width="3" height="9"/><rect x="387" y="55" width="1" height="87"/><rect x="386" y="64" width="3" height="76"/><rect x="387" y="65" width="1" height="74" fill="#fff"/><rect x="391" y="58" width="1" height="31"/><rect x="390" y="64" width="3" height="8"/><rect x="395" y="64" width="1" height="21"/><rect x="394" y="70" width="3" height="4"/><rect x="399" y="68" width="1" height="11"/><rect x="398" y="72" width="3" height="3"/><rect x="403" y="38" width="1" height="43"/><rect x="402" y="43" width="3" height="33"/><rect x="403" y="44" width="1" height="31" fill="#fff"/><rect x="407" y="39" width="1" height="10"/><rect x="406" y="43" width="3" height="6"/><rect x="411" y="34" width="1" height="16"/><rect x="410" y="44" width="3" height="5"/><rect x="411" y="45" width="1" height="3" fill="#fff"/><rect x="415" y="38" width="1" height="37"/><rect x="414" y="44" width="3" height="21"/><rect x="419" y="55" width="1" height="28"/><rect x="418" y="64" width="3" height="9"/><rect x="423" y="68" width="1" height="15"/><rect x="422" y="71" width="3" height="8"/><rect x="427" y="75" width="1" height="20"/><rect x="426" y="77" width="3" height="8"/><rect x="431" y="74" width="1" height="16"/><rect x="430" y="80" width="3" height="5"/><rect x="431" y="81" width="1" height="3" fill="#fff"/><rect x="435" y="76" width="1" height="14"/><rect x="434" y="80" width="3" height="9"/><rect x="439" y="74" width="1" height="21"/><rect x="438" y="79" width="3" height="9"/><rect x="439" y="80" width="1" height="7" fill="#fff"/><rect x="443" y="70" width="1" height="18"/><rect x="442" y="78" width="3" height="3"/><rect x="447" y="70" width="1" height="24"/><rect x="446" y="72" width="3" height="10"/><rect x="447" y="73" width="1" height="8" fill="#fff"/><rect x="451" y="69" width="1" height="19"/><rect x="450" y="78" width="3" height="4"/><rect x="451" y="79" width="1" height="2" fill="#fff"/><rect x="455" y="70" width="1" height="15"/><rect x="454" y="70" width="3" height="9"/><rect x="455" y="71" width="1" height="7" fill="#fff"/><rect x="459" y="54" width="1" height="19"/><rect x="458" y="57" width="3" height="15"/><rect x="459" y="58" width="1" height="13" fill="#fff"/><rect x="463" y="55" width="1" height="18"/><rect x="462" y="57" width="3" height="12"/><rect x="467" y="66" width="1" height="15"/><rect x="466" y="68" width="3" height="7"/><rect x="471" y="70" width="1" height="11"/><rect x="470" y="74" width="3" height="7"/><rect x="475" y="74" width="1" height="11"/><rect x="474" y="80" width="3" height="4"/><rect x="479" y="72" width="1" height="13"/><rect x="478" y="76" width="3" height="8"/><rect x="479" y="77" width="1" height="6" fill="#fff"/><rect x="483" y="49" width="1" height="31"/><rect x="482" y="50" width="3" height="27"/><rect x="483" y="51" width="1" height="25" fill="#fff"/><rect x="487" y="36" width="1" height="20"/><rect x="486" y="50" width="3" height="3"/><rect x="491" y="39" width="1" height="23"/><rect x="490" y="45" width="3" height="7"/><rect x="491" y="46" width="1" height="5" fill="#fff"/><rect x="495" y="44" width="1" height="10"/><rect x="494" y="44" width="3" height="8"/><rect x="499" y="47" width="1" height="7"/><rect x="498" y="49" width="3" height="2"/><rect x="503" y="39" width="1" height="16"/><rect x="502" y="44" width="3" height="7"/><rect x="503" y="45" width="1" height="5" fill="#fff"/><rect x="507" y="43" width="1" height="29"/><rect x="506" y="44" width="3" height="13"/><rect x="511" y="53" width="1" height="36"/><rect x="510" y="55" width="3" height="20"/><rect x="515" y="71" width="1" height="35"/><rect x="514" y="73" width="3" height="19"/><rect x="519" y="85" width="1" height="17"/><rect x="518" y="88" width="3" height="4"/><rect x="519" y="89" width="1" height="2" fill="#fff"/><rect x="523" y="80" width="1" height="14"/><rect x="522" y="81" width="3" height="9"/><rect x="523" y="82" width="1" height="7" fill="#fff"/><rect x="527" y="79" width="1" height="9"/><rect x="526" y="81" width="3" height="3"/><rect x="531" y="65" width="1" height="23"/><rect x="530" y="83" width="3" height="3"/><rect x="535" y="72" width="1" height="31"/><rect x="534" y="84" width="3" height="12"/><rect x="539" y="66" width="1" height="31"/><rect x="538" y="77" width="3" height="19"/><rect x="539" y="78" width="1" height="17" fill="#fff"/><rect x="543" y="67" width="1" height="12"/><rect x="542" y="70" width="3" height="8"/><rect x="543" y="71" width="1" height="6" fill="#fff"/><rect x="547" y="61" width="1" height="12"/><rect x="546" y="67" width="3" height="4"/><rect x="547" y="68" width="1" height="2" fill="#fff"/><rect x="551" y="63" width="1" height="6"/><rect x="550" y="63" width="3" height="6"/><rect x="551" y="64" width="1" height="4" fill="#fff"/><rect x="555" y="44" width="1" height="37"/><rect x="554" y="60" width="3" height="5"/><rect x="555" y="61" width="1" height="3" fill="#fff"/><rect x="559" y="46" width="1" height="20"/><rect x="558" y="59" width="3" height="3"/><rect x="563" y="53" width="1" height="22"/><rect x="562" y="53" width="3" height="22"/><rect x="567" y="67" width="1" height="10"/><rect x="566" y="71" width="3" height="3"/><rect x="571" y="65" width="1" height="28"/><rect x="570" y="68" width="3" height="18"/><rect x="575" y="77" width="1" height="11"/><rect x="574" y="81" width="3" height="6"/><rect x="575" y="82" width="1" height="4" fill="#fff"/><rect x="579" y="24" width="1" height="61"/><rect x="578" y="32" width="3" height="51"/><rect x="579" y="33" width="1" height="49" fill="#fff"/><rect x="583" y="20" width="1" height="21"/><rect x="582" y="32" width="3" height="2"/><rect x="587" y="27" width="1" height="44"/><rect x="586" y="31" width="3" height="40"/><rect x="591" y="60" width="1" height="12"/><rect x="590" y="66" width="3" height="4"/><rect x="591" y="67" width="1" height="2" fill="#fff"/><rect x="595" y="57" width="1" height="11"/><rect x="594" y="58" width="3" height="10"/><rect x="595" y="59" width="1" height="8" fill="#fff"/><rect x="599" y="56" width="1" height="6"/><rect x="598" y="57" width="3" height="2"/></g><g fill="#c0c0c0"><rect x="3" y="469" width="1" height="45"/><rect x="7" y="469" width="1" height="39"/><rect x="11" y="469" width="1" height="32"/><rect x="15" y="469" width="1" height="26"/><rect x="19" y="469" width="1" height="20"/><rect x="23" y="469" width="1" height="17"/><rect x="27" y="469" width="1" height="13"/><rect x="31" y="469" width="1" height="7"/><rect x="39" y="461" width="1" height="7"/><rect x="43" y="456" width="1" height="12"/><rect x="47" y="451" width="1" height="17"/><rect x="51" y="439" width="1" height="29"/><rect x="55" y="430" width="1" height="38"/><rect x="59" y="425" width="1" height="43"/><rect x="63" y="425" width="1" height="43"/><rect x="67" y="422" width="1" height="46"/><rect x="71" y="422" width="1" height="46"/><rect x="75" y="421" width="1" height="47"/><rect x="79" y="420" width="1" height="48"/><rect x="83" y="417" width="1" height="51"/><rect x="87" y="414" width="1" height="54"/><rect x="91" y="414" width="1" height="54"/><rect x="95" y="414" width="1" height="54"/><rect x="99" y="415" width="1" height="53"/><rect x="103" y="414" width="1" height="54"/><rect x="107" y="412" width="1" height="56"/><rect x="111" y="412" width="1" height="56"/><rect x="115" y="412" width="1" height="56"/><rect x="119" y="414" width="1" height="54"/><rect x="123" y="418" width="1" height="50"/><rect x="127" y="423" width="1" height="45"/><rect x="131" y="426" width="1" height="42"/><rect x="135" y="432" width="1" height="36"/><rect x="139" y="437" width="1" height="31"/><rect x="143" y="442" width="1" height="26"/><rect x="147" y="441" width="1" height="27"/><rect x="151" y="442" width="1" height="26"/><rect x="155" y="445" width="1" height="23"/><rect x="159" y="449" width="1" height="19"/><rect x="163" y="446" width="1" height="22"/><rect x="167" y="451" width="1" height="17"/><rect x="171" y="458" width="1" height="10"/><rect x="175" y="465" width="1" height="3"/><rect x="179" y="469" width="1" height="1"/><rect x="183" y="469" width="1" height="6"/><rect x="187" y="469" width="1" height="9"/><rect x="191" y="469" width="1" height="12"/><rect x="195" y="469" width="1" height="14"/><rect x="199" y="469" width="1" height="16"/><rect x="203" y="469" width="1" height="18"/><rect x="207" y="469" width="1" height="21"/><rect x="211" y="469" width="1" height="23"/><rect x="215" y="469" width="1" height="24"/><rect x="219" y="469" width="1" height="25"/><rect x="223" y="469" width="1" height="23"/><rect x="227" y="469" width="1" height="19"/><rect x="231" y="469" width="1" height="15"/><rect x="235" y="469" width="1" height="9"/><rect x="239" y="469" width="1" height="5"/><rect x="243" y="457" width="1" height="11"/><rect x="247" y="438" width="1" height="30"/><rect x="251" y="424" width="1" height="44"/><rect x="255" y="411" width="1" height="57"/><rect x="259" y="404" width="1" height="64"/><rect x="263" y="397" width="1" height="71"/><rect x="267" y="395" width="1" height="73"/><rect x="271" y="390" width="1" height="78"/><rect x="275" y="390" width="1" height="78"/><rect x="279" y="382" width="1" height="86"/><rect x="283" y="374" width="1" height="94"/><rect x="287" y="371" width="1" height="97"/><rect x="291" y="374" width="1" height="94"/><rect x="295" y="377" width="1" height="91"/><rect x="299" y="380" width="1" height="88"/><rect x="303" y="382" width="1" height="86"/><rect x="307" y="387" width="1" height="81"/><rect x="311" y="392" width="1" height="76"/><rect x="315" y="398" width="1" height="70"/><rect x="319" y="408" width="1" height="60"/><rect x="323" y="415" width="1" height="53"/><rect x="327" y="424" width="1" height="44"/><rect x="331" y="432" width="1" height="36"/><rect x="335" y="437" width="1" height="31"/><rect x="339" y="444" width="1" height="24"/><rect x="343" y="452" width="1" height="16"/><rect x="347" y="453" width="1" height="15"/><rect x="351" y="456" width="1" height="12"/><rect x="355" y="458" width="1" height="10"/><rect x="359" y="462" width="1" height="6"/><rect x="363" y="465" width="1" height="3"/><rect x="367" y="465" width="1" height="3"/><rect x="371" y="465" width="1" height="3"/><rect x="375" y="465" width="1" height="3"/><rect x="379" y="466" width="1" height="2"/><rect x="383" y="465" width="1" height="3"/><rect x="387" y="452" width="1" height="16"/><rect x="391" y="445" width="1" height="23"/><rect x="395" y="439" width="1" height="29"/><rect x="399" y="435" width="1" height="33"/><rect x="403" y="426" width="1" height="42"/><rect x="407" y="421" width="1" height="47"/><rect x="411" y="416" width="1" height="52"/><rect x="415" y="417" width="1" height="51"/><rect x="419" y="420" width="1" height="48"/><rect x="423" y="424" width="1" height="44"/><rect x="427" y="428" width="1" height="40"/><rect x="431" y="431" width="1" height="37"/><rect x="435" y="436" width="1" height="32"/><rect x="439" y="438" width="1" height="30"/><rect x="443" y="441" width="1" height="27"/><rect x="447" y="442" width="1" height="26"/><rect x="451" y="444" width="1" height="24"/><rect x="455" y="444" width="1" height="24"/><rect x="459" y="442" width="1" height="26"/><rect x="463" y="443" width="1" height="25"/><rect x="467" y="445" width="1" height="23"/><rect x="471" y="448" width="1" height="20"/><rect x="475" y="451" width="1" height="17"/><rect x="479" y="452" width="1" height="16"/><rect x="483" y="445" width="1" height="23"/><rect x="487" y="445" width="1" height="23"/><rect x="491" y="445" width="1" height="23"/><rect x="495" y="444" width="1" height="24"/><rect x="499" y="443" width="1" height="25"/><rect x="503" y="441" width="1" height="27"/><rect x="507" y="445" width="1" height="23"/><rect x="511" y="446" width="1" height="22"/><rect x="515" y="452" width="1" height="16"/><rect x="519" y="460" width="1" height="8"/><rect x="523" y="462" width="1" height="6"/><rect x="527" y="466" width="1" height="2"/><rect x="535" y="469" width="1" height="2"/><rect x="539" y="469" width="1" height="3"/><rect x="543" y="469" width="1" height="1"/><rect x="547" y="467" width="1" height="1"/><rect x="551" y="465" width="1" height="3"/><rect x="555" y="464" width="1" height="4"/><rect x="559" y="463" width="1" height="5"/><rect x="563" y="464" width="1" height="4"/><rect x="567" y="466" width="1" height="2"/><rect x="571" y="466" width="1" height="2"/><rect x="575" y="465" width="1" height="3"/><rect x="579" y="459" width="1" height="9"/><rect x="583" y="455" width="1" height="13"/><rect x="587" y="458" width="1" height="10"/><rect x="591" y="461" width="1" height="7"/><rect x="595" y="462" width="1" height="6"/><rect x="599" y="462" width="1" height="6"/></g><path d="M305 378h8v1h-8zM298 379h16v1h-16zM296 380h10v1h-10zM312 380h4v1h-4zM295 381h4v1h-4zM313 381h4v1h-4zM293 382h4v1h-4zM315 382h3v1h-3zM292 383h4v1h-4zM316 383h4v1h-4zM291 384h3v1h-3zM317 384h4v1h-4zM290 385h3v1h-3zM319 385h3v1h-3zM289 386h3v1h-3zM320 386h3v1h-3zM289 387h2v1h-2zM321 387h2v1h-2zM288 388h3v1h-3zM321 388h3v1h-3zM287 389h3v1h-3zM322 389h3v1h-3zM286 390h3v1h-3zM323 390h3v1h-3zM286 391h2v1h-2zM324 391h3v1h-3zM285 392h3v1h-3zM325 392h2v1h-2zM284 393h3v1h-3zM325 393h3v1h-3zM284 394h2v1h-2zM326 394h3v1h-3zM283 395h3v1h-3zM327 395h3v1h-3zM282 396h3v1h-3zM328 396h2v1h-2zM282 397h2v1h-2zM328 397h3v1h-3zM281 398h3v1h-3zM329 398h3v1h-3zM280 399h3v1h-3zM330 399h2v1h-2zM280 400h2v1h-2zM330 400h3v1h-3zM279 401h3v1h-3zM331 401h3v1h-3zM279 402h2v1h-2zM332 402h2v1h-2zM278 403h3v1h-3zM332 403h3v1h-3zM278 404h2v1h-2zM333 404h3v1h-3zM277 405h3v1h-3zM334 405h2v1h-2zM277 406h2v1h-2zM334 406h3v1h-3zM276 407h3v1h-3zM335 407h3v1h-3zM276 408h2v1h-2zM336 408h2v1h-2zM275 409h3v1h-3zM336 409h3v1h-3zM275 410h2v1h-2zM337 410h2v1h-2zM274 411h3v1h-3zM337 411h3v1h-3zM113 412h9v1h-9zM274 412h2v1h-2zM338 412h2v1h-2zM109 413h17v1h-17zM273 413h3v1h-3zM338 413h3v1h-3zM105 414h9v1h-9zM121 414h9v1h-9zM273 414h2v1h-2zM339 414h3v1h-3zM101 415h9v1h-9zM125 415h8v1h-8zM272 415h3v1h-3zM340 415h2v1h-2zM97 416h9v1h-9zM129 416h6v1h-6zM272 416h2v1h-2zM340 416h3v1h-3zM93 417h9v1h-9zM132 417h6v1h-6zM271 417h3v1h-3zM341 417h2v1h-2zM90 418h8v1h-8zM134 418h7v1h-7zM271 418h2v1h-2zM341 418h3v1h-3zM88 419h6v1h-6zM137 419h5v1h-5zM271 419h2v1h-2zM342 419h2v1h-2zM86 420h5v1h-5zM140 420h3v1h-3zM270 420h3v1h-3zM342 420h3v1h-3zM84 421h5v1h-5zM141 421h3v1h-3zM270 421h2v1h-2zM343 421h3v1h-3zM83 422h4v1h-4zM142 422h3v1h-3zM269 422h3v1h-3zM344 422h2v1h-2zM82 423h3v1h-3zM143 423h3v1h-3zM269 423h2v1h-2zM344 423h3v1h-3zM426 423h11v1h-11zM81 424h3v1h-3zM144 424h3v1h-3zM269 424h2v1h-2zM345 424h2v1h-2zM424 424h15v1h-15zM80 425h3v1h-3zM145 425h3v1h-3zM268 425h3v1h-3zM345 425h3v1h-3zM423 425h4v1h-4zM436 425h5v1h-5zM79 426h3v1h-3zM146 426h3v1h-3zM268 426h2v1h-2zM346 426h2v1h-2zM422 426h3v1h-3zM438 426h5v1h-5zM78 427h3v1h-3zM147 427h3v1h-3zM267 427h3v1h-3zM346 427h3v1h-3zM421 427h3v1h-3zM440 427h5v1h-5zM77 428h3v1h-3zM148 428h4v1h-4zM267 428h2v1h-2zM347 428h3v1h-3zM420 428h3v1h-3zM442 428h4v1h-4zM77 429h2v1h-2zM149 429h4v1h-4zM267 429h2v1h-2zM348 429h2v1h-2zM419 429h3v1h-3zM444 429h4v1h-4zM76 430h3v1h-3zM151 430h3v1h-3zM266 430h3v1h-3zM348 430h3v1h-3zM418 430h3v1h-3zM445 430h4v1h-4zM75 431h3v1h-3zM152 431h4v1h-4zM266 431h2v1h-2zM349 431h2v1h-2zM417 431h3v1h-3zM447 431h3v1h-3zM74 432h3v1h-3zM153 432h4v1h-4zM265 432h3v1h-3zM349 432h3v1h-3zM417 432h2v1h-2zM448 432h4v1h-4zM73 433h3v1h-3zM155 433h3v1h-3zM265 433h2v1h-2zM350 433h2v1h-2zM416 433h3v1h-3zM449 433h5v1h-5zM72 434h3v1h-3zM156 434h3v1h-3zM265 434h2v1h-2zM350 434h3v1h-3zM415 434h3v1h-3zM451 434h6v1h-6zM71 435h3v1h-3zM157 435h3v1h-3zM264 435h3v1h-3zM351 435h3v1h-3zM414 435h3v1h-3zM453 435h6v1h-6zM70 436h3v1h-3zM158 436h3v1h-3zM264 436h2v1h-2zM352 436h2v1h-2zM414 436h2v1h-2zM456 436h5v1h-5zM69 437h3v1h-3zM159 437h4v1h-4zM263 437h3v1h-3zM352 437h3v1h-3zM413 437h3v1h-3zM458 437h5v1h-5zM68 438h3v1h-3zM160 438h5v1h-5zM263 438h2v1h-2zM353 438h3v1h-3zM412 438h3v1h-3zM460 438h5v1h-5zM67 439h3v1h-3zM162 439h4v1h-4zM263 439h2v1h-2zM354 439h2v1h-2zM412 439h2v1h-2zM462 439h4v1h-4zM66 440h3v1h-3zM164 440h4v1h-4zM262 440h3v1h-3zM354 440h3v1h-3zM411 440h3v1h-3zM464 440h4v1h-4zM65 441h3v1h-3zM165 441h4v1h-4zM262 441h2v1h-2zM355 441h3v1h-3zM410 441h3v1h-3zM465 441h5v1h-5zM65 442h2v1h-2zM167 442h3v1h-3zM262 442h2v1h-2zM356 442h3v1h-3zM409 442h3v1h-3zM467 442h10v1h-10zM64 443h3v1h-3zM168 443h3v1h-3zM261 443h3v1h-3zM357 443h2v1h-2zM409 443h2v1h-2zM469 443h10v1h-10zM63 444h3v1h-3zM169 444h3v1h-3zM261 444h2v1h-2zM357 444h3v1h-3zM408 444h3v1h-3zM476 444h6v1h-6zM501 444h17v1h-17zM62 445h3v1h-3zM170 445h3v1h-3zM260 445h3v1h-3zM358 445h3v1h-3zM407 445h3v1h-3zM478 445h43v1h-43zM62 446h2v1h-2zM171 446h3v1h-3zM260 446h2v1h-2zM359 446h3v1h-3zM406 446h3v1h-3zM481 446h21v1h-21zM517 446h6v1h-6zM61 447h3v1h-3zM172 447h4v1h-4zM260 447h2v1h-2zM360 447h3v1h-3zM405 447h3v1h-3zM520 447h5v1h-5zM61 448h2v1h-2zM173 448h4v1h-4zM259 448h3v1h-3zM361 448h2v1h-2zM404 448h3v1h-3zM522 448h4v1h-4zM60 449h3v1h-3zM175 449h3v1h-3zM259 449h2v1h-2zM361 449h3v1h-3zM403 449h3v1h-3zM524 449h4v1h-4zM60 450h2v1h-2zM176 450h4v1h-4zM259 450h2v1h-2zM362 450h3v1h-3zM402 450h3v1h-3zM525 450h4v1h-4zM59 451h3v1h-3zM177 451h4v1h-4zM258 451h3v1h-3zM363 451h3v1h-3zM401 451h3v1h-3zM527 451h3v1h-3zM58 452h3v1h-3zM179 452h3v1h-3zM258 452h2v1h-2zM364 452h3v1h-3zM400 452h3v1h-3zM528 452h4v1h-4zM58 453h2v1h-2zM180 453h4v1h-4zM257 453h3v1h-3zM365 453h3v1h-3zM399 453h3v1h-3zM529 453h4v1h-4zM57 454h3v1h-3zM181 454h4v1h-4zM257 454h2v1h-2zM366 454h3v1h-3zM398 454h3v1h-3zM531 454h3v1h-3zM57 455h2v1h-2zM183 455h3v1h-3zM257 455h2v1h-2zM367 455h4v1h-4zM397 455h3v1h-3zM532 455h4v1h-4zM56 456h3v1h-3zM184 456h3v1h-3zM256 456h3v1h-3zM368 456h5v1h-5zM396 456h3v1h-3zM533 456h4v1h-4zM56 457h2v1h-2zM185 457h3v1h-3zM256 457h2v1h-2zM370 457h5v1h-5zM394 457h4v1h-4zM535 457h3v1h-3zM55 458h3v1h-3zM186 458h3v1h-3zM255 458h3v1h-3zM372 458h5v1h-5zM392 458h5v1h-5zM536 458h3v1h-3zM54 459h3v1h-3zM187 459h3v1h-3zM255 459h2v1h-2zM374 459h5v1h-5zM390 459h5v1h-5zM537 459h3v1h-3zM54 460h2v1h-2zM188 460h3v1h-3zM255 460h2v1h-2zM376 460h6v1h-6zM388 460h5v1h-5zM538 460h3v1h-3zM589 460h12v1h-12zM53 461h3v1h-3zM189 461h3v1h-3zM254 461h3v1h-3zM378 461h13v1h-13zM539 461h3v1h-3zM585 461h16v1h-16zM53 462h2v1h-2zM190 462h3v1h-3zM254 462h2v1h-2zM381 462h8v1h-8zM540 462h4v1h-4zM581 462h9v1h-9zM52 463h3v1h-3zM191 463h3v1h-3zM253 463h3v1h-3zM541 463h4v1h-4zM577 463h9v1h-9zM52 464h2v1h-2zM192 464h3v1h-3zM253 464h2v1h-2zM543 464h4v1h-4zM573 464h9v1h-9zM51 465h3v1h-3zM193 465h2v1h-2zM252 465h3v1h-3zM544 465h6v1h-6zM565 465h13v1h-13zM50 466h3v1h-3zM193 466h3v1h-3zM252 466h2v1h-2zM546 466h28v1h-28zM50 467h2v1h-2zM194 467h3v1h-3zM251 467h3v1h-3zM549 467h17v1h-17zM49 468h3v1h-3zM195 468h3v1h-3zM251 468h2v1h-2zM49 469h2v1h-2zM196 469h3v1h-3zM250 469h3v1h-3zM48 470h3v1h-3zM197 470h3v1h-3zM250 470h2v1h-2zM48 471h2v1h-2zM198 471h3v1h-3zM249 471h3v1h-3zM47 472h3v1h-3zM199 472h3v1h-3zM249 472h2v1h-2zM46 473h3v1h-3zM200 473h3v1h-3zM248 473h3v1h-3zM46 474h2v1h-2zM201 474h3v1h-3zM248 474h2v1h-2zM45 475h3v1h-3zM202 475h3v1h-3zM247 475h3v1h-3zM44 476h3v1h-3zM203 476h3v1h-3zM246 476h3v1h-3zM44 477h2v1h-2zM204 477h3v1h-3zM246 477h2v1h-2zM43 478h3v1h-3zM205 478h3v1h-3zM245 478h3v1h-3zM42 479h3v1h-3zM206 479h3v1h-3zM245 479h2v1h-2zM41 480h3v1h-3zM207 480h3v1h-3zM244 480h3v1h-3zM41 481h2v1h-2zM208 481h4v1h-4zM244 481h2v1h-2zM40 482h3v1h-3zM209 482h4v1h-4zM243 482h3v1h-3zM39 483h3v1h-3zM211 483h3v1h-3zM241 483h4v1h-4zM38 484h3v1h-3zM212 484h4v1h-4zM240 484h4v1h-4zM38 485h2v1h-2zM213 485h4v1h-4zM239 485h3v1h-3zM37 486h3v1h-3zM215 486h4v1h-4zM237 486h4v1h-4zM36 487h3v1h-3zM216 487h6v1h-6zM236 487h4v1h-4zM36 488h2v1h-2zM218 488h20v1h-20zM35 489h3v1h-3zM221 489h16v1h-16zM34 490h3v1h-3zM34 491h2v1h-2zM33 492h3v1h-3zM32 493h3v1h-3zM32 494h2v1h-2zM31 495h3v1h-3zM29 496h4v1h-4zM28 497h4v1h-4zM27 498h3v1h-3zM26 499h3v1h-3zM25 500h3v1h-3zM25 501h2v1h-2zM24 502h3v1h-3zM23 503h3v1h-3zM22 504h3v1h-3zM21 505h3v1h-3zM20 506h3v1h-3zM19 507h3v1h-3zM18 508h3v1h-3zM17 509h3v1h-3zM16 510h3v1h-3zM15 511h3v1h-3zM14 512h3v1h-3zM14 513h2v1h-2zM13 514h3v1h-3zM13 515h2v1h-2zM12 516h3v1h-3zM12 517h2v1h-2zM10 518h4v1h-4zM8 519h5v1h-5zM7 520h4v1h-4zM5 521h4v1h-4zM4 522h4v1h-4zM3 523h3v1h-3zM3 524h2v1h-2z" fill="#ff0000"/><path d="M247 543h1v1h-1zM246 544h1v1h-1zM248 544h2v1h-2zM246 545h1v1h-1zM250 545h6v1h-6zM282 545h3v1h-3zM245 546h1v1h-1zM256 546h1v1h-1zM262 546h2v1h-2zM280 546h2v1h-2zM285 546h3v1h-3zM411 546h1v1h-1zM244 547h1v1h-1zM257 547h2v1h-2zM260 547h2v1h-2zM264 547h1v1h-1zM279 547h1v1h-1zM287 547h1v1h-1zM410 547h2v1h-2zM244 548h1v1h-1zM259 548h1v1h-1zM265 548h2v1h-2zM269 548h3v1h-3zM278 548h1v1h-1zM288 548h1v1h-1zM409 548h1v1h-1zM412 548h1v1h-1zM243 549h1v1h-1zM267 549h2v1h-2zM272 549h1v1h-1zM277 549h1v1h-1zM288 549h1v1h-1zM408 549h1v1h-1zM412 549h1v1h-1zM243 550h1v1h-1zM273 550h2v1h-2zM276 550h1v1h-1zM288 550h1v1h-1zM406 550h2v1h-2zM413 550h1v1h-1zM242 551h1v1h-1zM275 551h1v1h-1zM289 551h1v1h-1zM404 551h2v1h-2zM413 551h1v1h-1zM242 552h1v1h-1zM289 552h1v1h-1zM403 552h1v1h-1zM414 552h1v1h-1zM55 553h1v1h-1zM242 553h1v1h-1zM290 553h1v1h-1zM395 553h1v1h-1zM402 553h1v1h-1zM414 553h1v1h-1zM54 554h1v1h-1zM56 554h2v1h-2zM90 554h2v1h-2zM242 554h1v1h-1zM290 554h1v1h-1zM394 554h1v1h-1zM396 554h1v1h-1zM401 554h1v1h-1zM415 554h1v1h-1zM53 555h1v1h-1zM58 555h2v1h-2zM88 555h2v1h-2zM91 555h1v1h-1zM241 555h1v1h-1zM290 555h1v1h-1zM393 555h1v1h-1zM397 555h2v1h-2zM400 555h1v1h-1zM415 555h1v1h-1zM53 556h1v1h-1zM59 556h1v1h-1zM87 556h1v1h-1zM92 556h1v1h-1zM241 556h1v1h-1zM291 556h1v1h-1zM393 556h1v1h-1zM399 556h1v1h-1zM415 556h1v1h-1zM52 557h1v1h-1zM60 557h1v1h-1zM87 557h1v1h-1zM92 557h1v1h-1zM241 557h1v1h-1zM291 557h1v1h-1zM392 557h1v1h-1zM415 557h1v1h-1zM51 558h1v1h-1zM60 558h1v1h-1zM86 558h1v1h-1zM93 558h1v1h-1zM240 558h1v1h-1zM291 558h1v1h-1zM391 558h1v1h-1zM416 558h1v1h-1zM50 559h1v1h-1zM60 559h1v1h-1zM86 559h1v1h-1zM93 559h1v1h-1zM240 559h1v1h-1zM291 559h1v1h-1zM390 559h1v1h-1zM416 559h1v1h-1zM50 560h1v1h-1zM60 560h1v1h-1zM85 560h1v1h-1zM93 560h1v1h-1zM240 560h1v1h-1zM292 560h1v1h-1zM389 560h1v1h-1zM416 560h1v1h-1zM49 561h1v1h-1zM61 561h1v1h-1zM85 561h1v1h-1zM94 561h1v1h-1zM240 561h1v1h-1zM292 561h1v1h-1zM388 561h1v1h-1zM416 561h1v1h-1zM49 562h1v1h-1zM61 562h1v1h-1zM84 562h1v1h-1zM94 562h1v1h-1zM107 562h1v1h-1zM239 562h1v1h-1zM292 562h1v1h-1zM387 562h1v1h-1zM417 562h1v1h-1zM491 562h1v1h-1zM48 563h1v1h-1zM61 563h1v1h-1zM84 563h1v1h-1zM95 563h1v1h-1zM107 563h2v1h-2zM239 563h1v1h-1zM292 563h1v1h-1zM387 563h1v1h-1zM417 563h1v1h-1zM491 563h1v1h-1zM48 564h1v1h-1zM61 564h1v1h-1zM83 564h1v1h-1zM95 564h1v1h-1zM106 564h1v1h-1zM109 564h2v1h-2zM239 564h1v1h-1zM293 564h1v1h-1zM386 564h1v1h-1zM417 564h1v1h-1zM491 564h2v1h-2zM45 565h3v1h-3zM62 565h1v1h-1zM83 565h1v1h-1zM96 565h1v1h-1zM106 565h1v1h-1zM111 565h1v1h-1zM238 565h1v1h-1zM293 565h1v1h-1zM386 565h1v1h-1zM417 565h1v1h-1zM490 565h1v1h-1zM492 565h1v1h-1zM39 566h6v1h-6zM62 566h1v1h-1zM83 566h1v1h-1zM96 566h1v1h-1zM106 566h1v1h-1zM112 566h1v1h-1zM238 566h1v1h-1zM293 566h1v1h-1zM386 566h1v1h-1zM417 566h1v1h-1zM490 566h1v1h-1zM492 566h1v1h-1zM38 567h1v1h-1zM62 567h1v1h-1zM82 567h1v1h-1zM97 567h1v1h-1zM105 567h1v1h-1zM113 567h1v1h-1zM237 567h1v1h-1zM293 567h1v1h-1zM386 567h1v1h-1zM418 567h1v1h-1zM490 567h1v1h-1zM493 567h1v1h-1zM38 568h1v1h-1zM62 568h1v1h-1zM82 568h1v1h-1zM97 568h1v1h-1zM105 568h1v1h-1zM114 568h1v1h-1zM237 568h1v1h-1zM293 568h1v1h-1zM385 568h1v1h-1zM418 568h1v1h-1zM490 568h1v1h-1zM493 568h1v1h-1zM37 569h1v1h-1zM63 569h1v1h-1zM81 569h1v1h-1zM98 569h1v1h-1zM105 569h1v1h-1zM115 569h1v1h-1zM236 569h1v1h-1zM294 569h1v1h-1zM385 569h1v1h-1zM418 569h1v1h-1zM490 569h1v1h-1zM493 569h1v1h-1zM37 570h1v1h-1zM63 570h1v1h-1zM81 570h1v1h-1zM98 570h1v1h-1zM104 570h1v1h-1zM115 570h1v1h-1zM236 570h1v1h-1zM294 570h1v1h-1zM385 570h1v1h-1zM418 570h1v1h-1zM489 570h1v1h-1zM494 570h1v1h-1zM36 571h1v1h-1zM64 571h1v1h-1zM80 571h1v1h-1zM99 571h1v1h-1zM104 571h1v1h-1zM116 571h1v1h-1zM235 571h1v1h-1zM294 571h1v1h-1zM385 571h1v1h-1zM419 571h1v1h-1zM489 571h1v1h-1zM494 571h1v1h-1zM19 572h1v1h-1zM36 572h1v1h-1zM64 572h1v1h-1zM80 572h1v1h-1zM99 572h1v1h-1zM104 572h1v1h-1zM116 572h1v1h-1zM235 572h1v1h-1zM294 572h1v1h-1zM384 572h1v1h-1zM419 572h1v1h-1zM489 572h1v1h-1zM494 572h1v1h-1zM19 573h2v1h-2zM35 573h1v1h-1zM65 573h1v1h-1zM79 573h1v1h-1zM100 573h2v1h-2zM103 573h1v1h-1zM116 573h1v1h-1zM234 573h1v1h-1zM295 573h1v1h-1zM384 573h1v1h-1zM419 573h1v1h-1zM489 573h1v1h-1zM495 573h1v1h-1zM18 574h1v1h-1zM20 574h1v1h-1zM35 574h1v1h-1zM65 574h1v1h-1zM77 574h3v1h-3zM102 574h2v1h-2zM117 574h1v1h-1zM234 574h1v1h-1zM295 574h1v1h-1zM384 574h1v1h-1zM419 574h1v1h-1zM489 574h1v1h-1zM495 574h5v1h-5zM18 575h1v1h-1zM21 575h1v1h-1zM34 575h1v1h-1zM66 575h1v1h-1zM75 575h2v1h-2zM117 575h1v1h-1zM234 575h1v1h-1zM295 575h1v1h-1zM379 575h1v1h-1zM384 575h1v1h-1zM419 575h1v1h-1zM489 575h1v1h-1zM500 575h1v1h-1zM17 576h1v1h-1zM22 576h1v1h-1zM34 576h1v1h-1zM66 576h1v1h-1zM74 576h1v1h-1zM117 576h1v1h-1zM234 576h1v1h-1zM295 576h1v1h-1zM379 576h3v1h-3zM383 576h1v1h-1zM420 576h1v1h-1zM488 576h1v1h-1zM501 576h2v1h-2zM17 577h1v1h-1zM22 577h1v1h-1zM33 577h1v1h-1zM67 577h1v1h-1zM73 577h1v1h-1zM118 577h1v1h-1zM233 577h1v1h-1zM296 577h1v1h-1zM378 577h1v1h-1zM382 577h2v1h-2zM420 577h1v1h-1zM488 577h1v1h-1zM503 577h1v1h-1zM16 578h1v1h-1zM23 578h1v1h-1zM33 578h1v1h-1zM68 578h1v1h-1zM73 578h1v1h-1zM118 578h1v1h-1zM233 578h1v1h-1zM296 578h1v1h-1zM378 578h1v1h-1zM420 578h1v1h-1zM488 578h1v1h-1zM504 578h1v1h-1zM16 579h1v1h-1zM24 579h1v1h-1zM32 579h1v1h-1zM69 579h2v1h-2zM72 579h1v1h-1zM118 579h1v1h-1zM233 579h1v1h-1zM296 579h1v1h-1zM377 579h1v1h-1zM420 579h1v1h-1zM488 579h1v1h-1zM504 579h1v1h-1zM15 580h1v1h-1zM25 580h2v1h-2zM32 580h1v1h-1zM71 580h1v1h-1zM119 580h1v1h-1zM233 580h1v1h-1zM297 580h1v1h-1zM377 580h1v1h-1zM420 580h1v1h-1zM488 580h1v1h-1zM505 580h1v1h-1zM15 581h1v1h-1zM27 581h5v1h-5zM119 581h1v1h-1zM232 581h1v1h-1zM297 581h1v1h-1zM376 581h1v1h-1zM421 581h1v1h-1zM487 581h1v1h-1zM505 581h1v1h-1zM15 582h1v1h-1zM119 582h1v1h-1zM232 582h1v1h-1zM297 582h1v1h-1zM376 582h1v1h-1zM421 582h1v1h-1zM487 582h1v1h-1zM506 582h1v1h-1zM14 583h1v1h-1zM120 583h1v1h-1zM232 583h1v1h-1zM297 583h1v1h-1zM375 583h1v1h-1zM421 583h1v1h-1zM487 583h1v1h-1zM506 583h1v1h-1zM583 583h1v1h-1zM14 584h1v1h-1zM120 584h1v1h-1zM232 584h1v1h-1zM298 584h1v1h-1zM375 584h1v1h-1zM421 584h1v1h-1zM487 584h1v1h-1zM507 584h1v1h-1zM583 584h2v1h-2zM14 585h1v1h-1zM120 585h1v1h-1zM231 585h1v1h-1zM298 585h1v1h-1zM375 585h1v1h-1zM421 585h1v1h-1zM487 585h1v1h-1zM507 585h1v1h-1zM583 585h1v1h-1zM585 585h1v1h-1zM14 586h1v1h-1zM120 586h1v1h-1zM231 586h1v1h-1zM298 586h1v1h-1zM375 586h1v1h-1zM422 586h1v1h-1zM487 586h1v1h-1zM507 586h1v1h-1zM583 586h1v1h-1zM585 586h1v1h-1zM13 587h1v1h-1zM121 587h1v1h-1zM231 587h1v1h-1zM299 587h1v1h-1zM374 587h1v1h-1zM422 587h1v1h-1zM486 587h1v1h-1zM507 587h1v1h-1zM582 587h1v1h-1zM586 587h1v1h-1zM13 588h1v1h-1zM121 588h1v1h-1zM231 588h1v1h-1zM299 588h1v1h-1zM374 588h1v1h-1zM422 588h1v1h-1zM486 588h1v1h-1zM508 588h1v1h-1zM582 588h1v1h-1zM587 588h1v1h-1zM13 589h1v1h-1zM121 589h1v1h-1zM231 589h1v1h-1zM299 589h1v1h-1zM374 589h1v1h-1zM422 589h1v1h-1zM486 589h1v1h-1zM508 589h1v1h-1zM582 589h1v1h-1zM587 589h1v1h-1zM13 590h1v1h-1zM121 590h1v1h-1zM231 590h1v1h-1zM300 590h1v1h-1zM374 590h1v1h-1zM422 590h1v1h-1zM486 590h1v1h-1zM508 590h1v1h-1zM559 590h1v1h-1zM582 590h1v1h-1zM587 590h1v1h-1zM12 591h1v1h-1zM122 591h1v1h-1zM231 591h1v1h-1zM300 591h1v1h-1zM374 591h1v1h-1zM423 591h1v1h-1zM486 591h1v1h-1zM508 591h1v1h-1zM559 591h2v1h-2zM582 591h1v1h-1zM587 591h1v1h-1zM12 592h1v1h-1zM122 592h1v1h-1zM230 592h1v1h-1zM300 592h1v1h-1zM373 592h1v1h-1zM423 592h1v1h-1zM486 592h1v1h-1zM508 592h1v1h-1zM558 592h1v1h-1zM561 592h1v1h-1zM582 592h1v1h-1zM588 592h1v1h-1zM12 593h1v1h-1zM122 593h1v1h-1zM230 593h1v1h-1zM301 593h1v1h-1zM373 593h1v1h-1zM423 593h1v1h-1zM486 593h1v1h-1zM508 593h1v1h-1zM558 593h1v1h-1zM561 593h1v1h-1zM582 593h1v1h-1zM588 593h1v1h-1zM12 594h1v1h-1zM122 594h1v1h-1zM230 594h1v1h-1zM301 594h1v1h-1zM373 594h1v1h-1zM423 594h1v1h-1zM485 594h1v1h-1zM508 594h1v1h-1zM557 594h1v1h-1zM562 594h1v1h-1zM582 594h1v1h-1zM588 594h1v1h-1zM11 595h1v1h-1zM123 595h1v1h-1zM230 595h1v1h-1zM301 595h1v1h-1zM373 595h1v1h-1zM424 595h1v1h-1zM485 595h1v1h-1zM509 595h1v1h-1zM557 595h1v1h-1zM563 595h1v1h-1zM581 595h1v1h-1zM588 595h1v1h-1zM11 596h1v1h-1zM123 596h1v1h-1zM230 596h1v1h-1zM301 596h1v1h-1zM373 596h1v1h-1zM424 596h1v1h-1zM485 596h1v1h-1zM509 596h1v1h-1zM556 596h1v1h-1zM563 596h1v1h-1zM581 596h1v1h-1zM588 596h1v1h-1zM11 597h1v1h-1zM123 597h1v1h-1zM230 597h1v1h-1zM302 597h1v1h-1zM373 597h1v1h-1zM424 597h1v1h-1zM485 597h1v1h-1zM509 597h1v1h-1zM556 597h1v1h-1zM564 597h1v1h-1zM581 597h1v1h-1zM588 597h1v1h-1zM11 598h1v1h-1zM123 598h1v1h-1zM230 598h1v1h-1zM302 598h1v1h-1zM372 598h1v1h-1zM425 598h1v1h-1zM485 598h1v1h-1zM509 598h1v1h-1zM555 598h1v1h-1zM564 598h1v1h-1zM581 598h1v1h-1zM589 598h1v1h-1zM11 599h1v1h-1zM124 599h1v1h-1zM230 599h1v1h-1zM302 599h1v1h-1zM372 599h1v1h-1zM425 599h1v1h-1zM485 599h1v1h-1zM509 599h1v1h-1zM555 599h1v1h-1zM564 599h1v1h-1zM581 599h1v1h-1zM589 599h1v1h-1zM10 600h1v1h-1zM124 600h1v1h-1zM230 600h1v1h-1zM303 600h1v1h-1zM372 600h1v1h-1zM426 600h1v1h-1zM484 600h1v1h-1zM509 600h1v1h-1zM554 600h1v1h-1zM565 600h1v1h-1zM581 600h1v1h-1zM589 600h1v1h-1zM10 601h1v1h-1zM124 601h1v1h-1zM230 601h1v1h-1zM303 601h1v1h-1zM372 601h1v1h-1zM426 601h1v1h-1zM484 601h1v1h-1zM509 601h1v1h-1zM554 601h1v1h-1zM565 601h1v1h-1zM581 601h1v1h-1zM589 601h1v1h-1zM10 602h1v1h-1zM124 602h1v1h-1zM230 602h1v1h-1zM303 602h1v1h-1zM372 602h1v1h-1zM426 602h1v1h-1zM484 602h1v1h-1zM510 602h1v1h-1zM554 602h1v1h-1zM566 602h1v1h-1zM580 602h1v1h-1zM589 602h1v1h-1zM10 603h1v1h-1zM124 603h1v1h-1zM229 603h1v1h-1zM304 603h1v1h-1zM371 603h1v1h-1zM427 603h1v1h-1zM484 603h1v1h-1zM510 603h1v1h-1zM553 603h1v1h-1zM566 603h1v1h-1zM580 603h1v1h-1zM589 603h1v1h-1zM10 604h1v1h-1zM125 604h1v1h-1zM229 604h1v1h-1zM304 604h1v1h-1zM371 604h1v1h-1zM427 604h1v1h-1zM484 604h1v1h-1zM510 604h1v1h-1zM553 604h1v1h-1zM566 604h1v1h-1zM580 604h1v1h-1zM589 604h1v1h-1zM10 605h1v1h-1zM125 605h1v1h-1zM229 605h1v1h-1zM305 605h1v1h-1zM371 605h1v1h-1zM428 605h1v1h-1zM484 605h1v1h-1zM510 605h1v1h-1zM553 605h1v1h-1zM567 605h1v1h-1zM580 605h1v1h-1zM590 605h1v1h-1zM9 606h1v1h-1zM125 606h1v1h-1zM229 606h1v1h-1zM305 606h1v1h-1zM371 606h1v1h-1zM428 606h1v1h-1zM484 606h1v1h-1zM510 606h1v1h-1zM552 606h1v1h-1zM567 606h1v1h-1zM580 606h1v1h-1zM590 606h1v1h-1zM9 607h1v1h-1zM125 607h1v1h-1zM229 607h1v1h-1zM306 607h1v1h-1zM371 607h1v1h-1zM429 607h1v1h-1zM483 607h1v1h-1zM510 607h1v1h-1zM552 607h1v1h-1zM567 607h1v1h-1zM580 607h1v1h-1zM590 607h1v1h-1zM9 608h1v1h-1zM125 608h1v1h-1zM229 608h1v1h-1zM306 608h1v1h-1zM371 608h1v1h-1zM430 608h1v1h-1zM483 608h1v1h-1zM510 608h1v1h-1zM552 608h1v1h-1zM567 608h1v1h-1zM580 608h1v1h-1zM590 608h1v1h-1zM9 609h1v1h-1zM126 609h1v1h-1zM229 609h1v1h-1zM307 609h1v1h-1zM370 609h1v1h-1zM430 609h1v1h-1zM483 609h1v1h-1zM511 609h1v1h-1zM551 609h1v1h-1zM567 609h1v1h-1zM580 609h1v1h-1zM590 609h1v1h-1zM9 610h1v1h-1zM126 610h1v1h-1zM229 610h1v1h-1zM307 610h1v1h-1zM370 610h1v1h-1zM431 610h1v1h-1zM483 610h1v1h-1zM511 610h1v1h-1zM551 610h1v1h-1zM568 610h1v1h-1zM579 610h1v1h-1zM590 610h1v1h-1zM9 611h1v1h-1zM126 611h1v1h-1zM229 611h1v1h-1zM308 611h1v1h-1zM370 611h1v1h-1zM432 611h1v1h-1zM483 611h1v1h-1zM511 611h1v1h-1zM551 611h1v1h-1zM568 611h1v1h-1zM579 611h1v1h-1zM591 611h1v1h-1zM9 612h1v1h-1zM126 612h1v1h-1zM229 612h1v1h-1zM308 612h1v1h-1zM370 612h1v1h-1zM432 612h1v1h-1zM483 612h1v1h-1zM511 612h1v1h-1zM550 612h1v1h-1zM568 612h1v1h-1zM579 612h1v1h-1zM591 612h1v1h-1zM8 613h1v1h-1zM126 613h1v1h-1zM229 613h1v1h-1zM309 613h1v1h-1zM370 613h1v1h-1zM433 613h1v1h-1zM483 613h1v1h-1zM511 613h1v1h-1zM550 613h1v1h-1zM568 613h1v1h-1zM579 613h1v1h-1zM591 613h1v1h-1zM8 614h1v1h-1zM127 614h1v1h-1zM229 614h1v1h-1zM309 614h1v1h-1zM370 614h1v1h-1zM434 614h1v1h-1zM483 614h1v1h-1zM511 614h1v1h-1zM550 614h1v1h-1zM568 614h1v1h-1zM579 614h1v1h-1zM591 614h1v1h-1zM8 615h1v1h-1zM127 615h1v1h-1zM228 615h1v1h-1zM310 615h1v1h-1zM369 615h1v1h-1zM434 615h1v1h-1zM482 615h1v1h-1zM511 615h1v1h-1zM549 615h1v1h-1zM568 615h1v1h-1zM579 615h1v1h-1zM591 615h1v1h-1zM8 616h1v1h-1zM127 616h1v1h-1zM228 616h1v1h-1zM310 616h1v1h-1zM369 616h1v1h-1zM435 616h1v1h-1zM482 616h1v1h-1zM512 616h1v1h-1zM549 616h1v1h-1zM569 616h1v1h-1zM579 616h1v1h-1zM591 616h1v1h-1zM8 617h1v1h-1zM127 617h1v1h-1zM228 617h1v1h-1zM311 617h1v1h-1zM369 617h1v1h-1zM435 617h1v1h-1zM482 617h1v1h-1zM512 617h1v1h-1zM549 617h1v1h-1zM569 617h1v1h-1zM578 617h1v1h-1zM591 617h1v1h-1zM8 618h1v1h-1zM127 618h1v1h-1zM228 618h1v1h-1zM311 618h1v1h-1zM369 618h1v1h-1zM436 618h1v1h-1zM482 618h1v1h-1zM512 618h1v1h-1zM548 618h1v1h-1zM569 618h1v1h-1zM578 618h1v1h-1zM592 618h1v1h-1zM7 619h1v1h-1zM128 619h1v1h-1zM228 619h1v1h-1zM311 619h1v1h-1zM369 619h1v1h-1zM436 619h1v1h-1zM467 619h1v1h-1zM482 619h1v1h-1zM512 619h1v1h-1zM548 619h1v1h-1zM569 619h1v1h-1zM578 619h1v1h-1zM592 619h1v1h-1zM7 620h1v1h-1zM128 620h1v1h-1zM228 620h1v1h-1zM312 620h1v1h-1zM369 620h1v1h-1zM436 620h1v1h-1zM466 620h2v1h-2zM482 620h1v1h-1zM512 620h1v1h-1zM548 620h1v1h-1zM569 620h1v1h-1zM578 620h1v1h-1zM592 620h1v1h-1zM7 621h1v1h-1zM128 621h1v1h-1zM228 621h1v1h-1zM312 621h1v1h-1zM368 621h1v1h-1zM436 621h1v1h-1zM466 621h1v1h-1zM468 621h1v1h-1zM482 621h1v1h-1zM512 621h1v1h-1zM547 621h1v1h-1zM569 621h1v1h-1zM578 621h1v1h-1zM592 621h1v1h-1zM7 622h1v1h-1zM128 622h1v1h-1zM228 622h1v1h-1zM312 622h1v1h-1zM368 622h1v1h-1zM437 622h1v1h-1zM465 622h1v1h-1zM468 622h1v1h-1zM482 622h1v1h-1zM512 622h1v1h-1zM547 622h1v1h-1zM570 622h1v1h-1zM578 622h1v1h-1zM592 622h1v1h-1zM7 623h1v1h-1zM128 623h1v1h-1zM228 623h1v1h-1zM313 623h1v1h-1zM368 623h1v1h-1zM437 623h1v1h-1zM465 623h1v1h-1zM468 623h1v1h-1zM482 623h1v1h-1zM512 623h1v1h-1zM547 623h1v1h-1zM570 623h1v1h-1zM578 623h1v1h-1zM592 623h1v1h-1zM7 624h1v1h-1zM129 624h1v1h-1zM228 624h1v1h-1zM313 624h1v1h-1zM368 624h1v1h-1zM437 624h1v1h-1zM464 624h1v1h-1zM469 624h1v1h-1zM481 624h1v1h-1zM513 624h1v1h-1zM547 624h1v1h-1zM570 624h1v1h-1zM578 624h1v1h-1zM592 624h1v1h-1zM6 625h1v1h-1zM129 625h1v1h-1zM228 625h1v1h-1zM313 625h1v1h-1zM368 625h1v1h-1zM437 625h1v1h-1zM464 625h1v1h-1zM469 625h1v1h-1zM481 625h1v1h-1zM513 625h1v1h-1zM546 625h1v1h-1zM570 625h1v1h-1zM577 625h1v1h-1zM593 625h1v1h-1zM6 626h1v1h-1zM129 626h1v1h-1zM227 626h1v1h-1zM314 626h1v1h-1zM368 626h1v1h-1zM438 626h1v1h-1zM463 626h1v1h-1zM469 626h1v1h-1zM481 626h1v1h-1zM513 626h1v1h-1zM546 626h1v1h-1zM570 626h1v1h-1zM577 626h1v1h-1zM593 626h1v1h-1zM6 627h1v1h-1zM129 627h1v1h-1zM227 627h1v1h-1zM314 627h1v1h-1zM367 627h1v1h-1zM438 627h1v1h-1zM463 627h1v1h-1zM469 627h1v1h-1zM481 627h1v1h-1zM513 627h1v1h-1zM546 627h1v1h-1zM570 627h1v1h-1zM577 627h1v1h-1zM593 627h1v1h-1zM6 628h1v1h-1zM129 628h1v1h-1zM227 628h1v1h-1zM314 628h1v1h-1zM367 628h1v1h-1zM438 628h1v1h-1zM462 628h1v1h-1zM470 628h1v1h-1zM481 628h1v1h-1zM513 628h1v1h-1zM546 628h1v1h-1zM571 628h1v1h-1zM577 628h1v1h-1zM593 628h1v1h-1zM5 629h1v1h-1zM130 629h1v1h-1zM227 629h1v1h-1zM315 629h1v1h-1zM367 629h1v1h-1zM438 629h1v1h-1zM462 629h1v1h-1zM470 629h1v1h-1zM481 629h1v1h-1zM513 629h1v1h-1zM546 629h1v1h-1zM571 629h1v1h-1zM577 629h1v1h-1zM593 629h1v1h-1zM5 630h1v1h-1zM130 630h1v1h-1zM227 630h1v1h-1zM315 630h1v1h-1zM367 630h1v1h-1zM439 630h1v1h-1zM462 630h1v1h-1zM470 630h1v1h-1zM481 630h1v1h-1zM513 630h1v1h-1zM546 630h1v1h-1zM571 630h1v1h-1zM577 630h1v1h-1zM593 630h1v1h-1zM5 631h1v1h-1zM130 631h1v1h-1zM227 631h1v1h-1zM315 631h1v1h-1zM367 631h1v1h-1zM439 631h1v1h-1zM461 631h1v1h-1zM471 631h1v1h-1zM481 631h1v1h-1zM513 631h1v1h-1zM545 631h1v1h-1zM571 631h1v1h-1zM577 631h1v1h-1zM593 631h1v1h-1zM5 632h1v1h-1zM130 632h1v1h-1zM227 632h1v1h-1zM315 632h1v1h-1zM366 632h1v1h-1zM439 632h1v1h-1zM461 632h1v1h-1zM471 632h1v1h-1zM480 632h1v1h-1zM514 632h1v1h-1zM545 632h1v1h-1zM571 632h1v1h-1zM576 632h1v1h-1zM594 632h1v1h-1zM5 633h1v1h-1zM130 633h1v1h-1zM155 633h1v1h-1zM227 633h1v1h-1zM316 633h1v1h-1zM366 633h1v1h-1zM439 633h1v1h-1zM460 633h1v1h-1zM471 633h1v1h-1zM480 633h1v1h-1zM514 633h1v1h-1zM545 633h1v1h-1zM572 633h1v1h-1zM576 633h1v1h-1zM594 633h1v1h-1zM4 634h1v1h-1zM131 634h1v1h-1zM154 634h2v1h-2zM227 634h1v1h-1zM316 634h1v1h-1zM366 634h1v1h-1zM440 634h1v1h-1zM460 634h1v1h-1zM472 634h1v1h-1zM480 634h1v1h-1zM514 634h1v1h-1zM545 634h1v1h-1zM572 634h1v1h-1zM576 634h1v1h-1zM594 634h1v1h-1zM4 635h1v1h-1zM131 635h1v1h-1zM154 635h2v1h-2zM226 635h1v1h-1zM316 635h1v1h-1zM366 635h1v1h-1zM440 635h1v1h-1zM460 635h1v1h-1zM472 635h1v1h-1zM480 635h1v1h-1zM514 635h1v1h-1zM545 635h1v1h-1zM572 635h1v1h-1zM576 635h1v1h-1zM594 635h1v1h-1zM4 636h1v1h-1zM131 636h1v1h-1zM153 636h1v1h-1zM155 636h1v1h-1zM226 636h1v1h-1zM316 636h1v1h-1zM366 636h1v1h-1zM440 636h1v1h-1zM459 636h1v1h-1zM472 636h1v1h-1zM480 636h1v1h-1zM514 636h1v1h-1zM545 636h1v1h-1zM573 636h1v1h-1zM576 636h1v1h-1zM594 636h1v1h-1zM4 637h1v1h-1zM131 637h1v1h-1zM153 637h1v1h-1zM156 637h1v1h-1zM226 637h1v1h-1zM317 637h1v1h-1zM365 637h1v1h-1zM440 637h1v1h-1zM459 637h1v1h-1zM473 637h1v1h-1zM480 637h1v1h-1zM514 637h1v1h-1zM544 637h1v1h-1zM573 637h1v1h-1zM576 637h1v1h-1zM594 637h1v1h-1zM599 637h1v1h-1zM3 638h1v1h-1zM132 638h1v1h-1zM152 638h1v1h-1zM156 638h1v1h-1zM226 638h1v1h-1zM317 638h1v1h-1zM365 638h1v1h-1zM441 638h1v1h-1zM459 638h1v1h-1zM473 638h1v1h-1zM480 638h1v1h-1zM514 638h1v1h-1zM544 638h1v1h-1zM573 638h1v1h-1zM576 638h1v1h-1zM594 638h1v1h-1zM598 638h1v1h-1zM3 639h1v1h-1zM132 639h1v1h-1zM152 639h1v1h-1zM156 639h1v1h-1zM226 639h1v1h-1zM317 639h1v1h-1zM365 639h1v1h-1zM441 639h1v1h-1zM458 639h1v1h-1zM474 639h1v1h-1zM480 639h1v1h-1zM514 639h1v1h-1zM544 639h1v1h-1zM574 639h1v1h-1zM576 639h1v1h-1zM595 639h1v1h-1zM597 639h1v1h-1zM3 640h1v1h-1zM132 640h1v1h-1zM151 640h1v1h-1zM156 640h1v1h-1zM226 640h1v1h-1zM317 640h1v1h-1zM365 640h1v1h-1zM441 640h1v1h-1zM458 640h1v1h-1zM474 640h1v1h-1zM480 640h1v1h-1zM515 640h1v1h-1zM544 640h1v1h-1zM574 640h2v1h-2zM595 640h1v1h-1zM597 640h1v1h-1zM132 641h1v1h-1zM151 641h1v1h-1zM156 641h1v1h-1zM226 641h1v1h-1zM318 641h1v1h-1zM365 641h1v1h-1zM441 641h1v1h-1zM458 641h1v1h-1zM474 641h1v1h-1zM479 641h1v1h-1zM515 641h1v1h-1zM544 641h1v1h-1zM574 641h2v1h-2zM595 641h2v1h-2zM133 642h1v1h-1zM150 642h1v1h-1zM156 642h1v1h-1zM225 642h1v1h-1zM318 642h1v1h-1zM365 642h1v1h-1zM442 642h1v1h-1zM457 642h1v1h-1zM475 642h1v1h-1zM479 642h1v1h-1zM515 642h1v1h-1zM544 642h1v1h-1zM575 642h1v1h-1zM595 642h1v1h-1zM133 643h1v1h-1zM150 643h1v1h-1zM156 643h1v1h-1zM225 643h1v1h-1zM318 643h1v1h-1zM364 643h1v1h-1zM442 643h1v1h-1zM457 643h1v1h-1zM475 643h1v1h-1zM479 643h1v1h-1zM515 643h1v1h-1zM543 643h1v1h-1zM575 643h1v1h-1zM133 644h1v1h-1zM149 644h1v1h-1zM157 644h1v1h-1zM225 644h1v1h-1zM318 644h1v1h-1zM364 644h1v1h-1zM442 644h1v1h-1zM456 644h1v1h-1zM476 644h2v1h-2zM479 644h1v1h-1zM515 644h1v1h-1zM543 644h1v1h-1zM133 645h1v1h-1zM149 645h1v1h-1zM157 645h1v1h-1zM225 645h1v1h-1zM319 645h1v1h-1zM364 645h1v1h-1zM442 645h1v1h-1zM456 645h1v1h-1zM478 645h2v1h-2zM515 645h1v1h-1zM543 645h1v1h-1zM134 646h1v1h-1zM148 646h1v1h-1zM157 646h1v1h-1zM225 646h1v1h-1zM319 646h1v1h-1zM364 646h1v1h-1zM443 646h1v1h-1zM456 646h1v1h-1zM515 646h1v1h-1zM543 646h1v1h-1zM134 647h1v1h-1zM148 647h1v1h-1zM157 647h1v1h-1zM225 647h1v1h-1zM319 647h1v1h-1zM364 647h1v1h-1zM443 647h1v1h-1zM455 647h1v1h-1zM515 647h1v1h-1zM543 647h1v1h-1zM134 648h1v1h-1zM147 648h1v1h-1zM157 648h1v1h-1zM225 648h1v1h-1zM319 648h1v1h-1zM363 648h1v1h-1zM443 648h1v1h-1zM455 648h1v1h-1zM516 648h1v1h-1zM542 648h1v1h-1zM134 649h1v1h-1zM147 649h1v1h-1zM157 649h1v1h-1zM225 649h1v1h-1zM320 649h1v1h-1zM355 649h1v1h-1zM363 649h1v1h-1zM443 649h1v1h-1zM455 649h1v1h-1zM516 649h1v1h-1zM542 649h1v1h-1zM135 650h1v1h-1zM147 650h1v1h-1zM158 650h1v1h-1zM224 650h1v1h-1zM320 650h1v1h-1zM355 650h1v1h-1zM363 650h1v1h-1zM444 650h1v1h-1zM454 650h1v1h-1zM516 650h1v1h-1zM542 650h1v1h-1zM135 651h1v1h-1zM147 651h1v1h-1zM158 651h1v1h-1zM224 651h1v1h-1zM320 651h1v1h-1zM355 651h2v1h-2zM363 651h1v1h-1zM444 651h1v1h-1zM454 651h1v1h-1zM516 651h1v1h-1zM542 651h1v1h-1zM135 652h1v1h-1zM146 652h1v1h-1zM158 652h1v1h-1zM224 652h1v1h-1zM321 652h1v1h-1zM354 652h1v1h-1zM356 652h1v1h-1zM362 652h1v1h-1zM444 652h1v1h-1zM454 652h1v1h-1zM516 652h1v1h-1zM541 652h1v1h-1zM136 653h1v1h-1zM146 653h1v1h-1zM158 653h1v1h-1zM224 653h1v1h-1zM321 653h1v1h-1zM354 653h1v1h-1zM357 653h1v1h-1zM362 653h1v1h-1zM444 653h1v1h-1zM453 653h1v1h-1zM516 653h1v1h-1zM541 653h1v1h-1zM136 654h1v1h-1zM146 654h1v1h-1zM158 654h1v1h-1zM224 654h1v1h-1zM321 654h1v1h-1zM354 654h1v1h-1zM357 654h1v1h-1zM361 654h1v1h-1zM445 654h1v1h-1zM453 654h1v1h-1zM517 654h1v1h-1zM541 654h1v1h-1zM137 655h1v1h-1zM146 655h1v1h-1zM158 655h1v1h-1zM224 655h1v1h-1zM321 655h1v1h-1zM354 655h1v1h-1zM357 655h1v1h-1zM361 655h1v1h-1zM445 655h1v1h-1zM453 655h1v1h-1zM517 655h1v1h-1zM541 655h1v1h-1zM137 656h1v1h-1zM146 656h1v1h-1zM158 656h1v1h-1zM224 656h1v1h-1zM322 656h1v1h-1zM353 656h1v1h-1zM358 656h1v1h-1zM360 656h1v1h-1zM445 656h1v1h-1zM452 656h1v1h-1zM517 656h1v1h-1zM531 656h1v1h-1zM540 656h1v1h-1zM138 657h1v1h-1zM145 657h1v1h-1zM159 657h1v1h-1zM223 657h1v1h-1zM322 657h1v1h-1zM353 657h1v1h-1zM358 657h1v1h-1zM360 657h1v1h-1zM446 657h1v1h-1zM452 657h1v1h-1zM517 657h1v1h-1zM529 657h3v1h-3zM540 657h1v1h-1zM138 658h1v1h-1zM145 658h1v1h-1zM159 658h1v1h-1zM223 658h1v1h-1zM322 658h1v1h-1zM353 658h1v1h-1zM359 658h1v1h-1zM446 658h1v1h-1zM452 658h1v1h-1zM517 658h1v1h-1zM528 658h1v1h-1zM532 658h1v1h-1zM540 658h1v1h-1zM139 659h1v1h-1zM145 659h1v1h-1zM159 659h1v1h-1zM223 659h1v1h-1zM323 659h1v1h-1zM353 659h1v1h-1zM359 659h1v1h-1zM446 659h1v1h-1zM451 659h1v1h-1zM517 659h1v1h-1zM527 659h1v1h-1zM532 659h1v1h-1zM540 659h1v1h-1zM139 660h1v1h-1zM145 660h1v1h-1zM159 660h1v1h-1zM223 660h1v1h-1zM323 660h1v1h-1zM352 660h1v1h-1zM446 660h1v1h-1zM450 660h2v1h-2zM517 660h1v1h-1zM526 660h1v1h-1zM532 660h1v1h-1zM539 660h1v1h-1zM139 661h1v1h-1zM145 661h1v1h-1zM160 661h2v1h-2zM223 661h1v1h-1zM323 661h1v1h-1zM352 661h1v1h-1zM447 661h3v1h-3zM518 661h1v1h-1zM526 661h1v1h-1zM533 661h1v1h-1zM539 661h1v1h-1zM140 662h1v1h-1zM145 662h1v1h-1zM162 662h2v1h-2zM223 662h1v1h-1zM323 662h1v1h-1zM352 662h1v1h-1zM447 662h1v1h-1zM518 662h1v1h-1zM525 662h1v1h-1zM533 662h1v1h-1zM539 662h1v1h-1zM140 663h1v1h-1zM144 663h1v1h-1zM164 663h2v1h-2zM203 663h1v1h-1zM222 663h1v1h-1zM324 663h1v1h-1zM352 663h1v1h-1zM518 663h1v1h-1zM524 663h1v1h-1zM533 663h1v1h-1zM538 663h1v1h-1zM141 664h1v1h-1zM144 664h1v1h-1zM166 664h2v1h-2zM201 664h2v1h-2zM204 664h1v1h-1zM222 664h1v1h-1zM324 664h1v1h-1zM351 664h1v1h-1zM518 664h1v1h-1zM524 664h1v1h-1zM534 664h1v1h-1zM538 664h1v1h-1zM141 665h1v1h-1zM144 665h1v1h-1zM168 665h1v1h-1zM200 665h1v1h-1zM205 665h2v1h-2zM222 665h1v1h-1zM324 665h1v1h-1zM351 665h1v1h-1zM518 665h1v1h-1zM523 665h1v1h-1zM534 665h1v1h-1zM537 665h1v1h-1zM141 666h1v1h-1zM144 666h1v1h-1zM169 666h1v1h-1zM199 666h1v1h-1zM207 666h1v1h-1zM222 666h1v1h-1zM324 666h1v1h-1zM351 666h1v1h-1zM518 666h1v1h-1zM522 666h1v1h-1zM534 666h1v1h-1zM536 666h1v1h-1zM142 667h1v1h-1zM144 667h1v1h-1zM170 667h1v1h-1zM198 667h1v1h-1zM208 667h1v1h-1zM222 667h1v1h-1zM325 667h1v1h-1zM351 667h1v1h-1zM519 667h1v1h-1zM521 667h1v1h-1zM535 667h2v1h-2zM142 668h2v1h-2zM171 668h1v1h-1zM187 668h1v1h-1zM198 668h1v1h-1zM208 668h1v1h-1zM221 668h1v1h-1zM325 668h1v1h-1zM350 668h1v1h-1zM519 668h1v1h-1zM521 668h1v1h-1zM535 668h1v1h-1zM143 669h1v1h-1zM171 669h1v1h-1zM186 669h1v1h-1zM188 669h1v1h-1zM197 669h1v1h-1zM209 669h1v1h-1zM221 669h1v1h-1zM325 669h1v1h-1zM350 669h1v1h-1zM519 669h2v1h-2zM143 670h1v1h-1zM172 670h1v1h-1zM186 670h1v1h-1zM189 670h2v1h-2zM197 670h1v1h-1zM209 670h1v1h-1zM221 670h1v1h-1zM325 670h1v1h-1zM350 670h1v1h-1zM519 670h1v1h-1zM172 671h1v1h-1zM185 671h1v1h-1zM191 671h1v1h-1zM196 671h1v1h-1zM210 671h1v1h-1zM221 671h1v1h-1zM325 671h1v1h-1zM350 671h1v1h-1zM172 672h1v1h-1zM184 672h1v1h-1zM192 672h2v1h-2zM196 672h1v1h-1zM210 672h1v1h-1zM220 672h1v1h-1zM326 672h1v1h-1zM349 672h1v1h-1zM172 673h1v1h-1zM184 673h1v1h-1zM194 673h2v1h-2zM211 673h1v1h-1zM220 673h1v1h-1zM326 673h1v1h-1zM349 673h1v1h-1zM173 674h1v1h-1zM183 674h1v1h-1zM211 674h1v1h-1zM220 674h1v1h-1zM326 674h1v1h-1zM349 674h1v1h-1zM173 675h1v1h-1zM183 675h1v1h-1zM212 675h1v1h-1zM220 675h1v1h-1zM326 675h1v1h-1zM349 675h1v1h-1zM173 676h1v1h-1zM182 676h1v1h-1zM213 676h2v1h-2zM220 676h1v1h-1zM327 676h1v1h-1zM348 676h1v1h-1zM173 677h1v1h-1zM182 677h1v1h-1zM215 677h1v1h-1zM219 677h1v1h-1zM327 677h1v1h-1zM348 677h1v1h-1zM174 678h1v1h-1zM182 678h1v1h-1zM216 678h2v1h-2zM219 678h1v1h-1zM327 678h1v1h-1zM348 678h1v1h-1zM174 679h1v1h-1zM181 679h1v1h-1zM218 679h2v1h-2zM328 679h1v1h-1zM348 679h1v1h-1zM174 680h1v1h-1zM181 680h1v1h-1zM328 680h1v1h-1zM347 680h1v1h-1zM174 681h1v1h-1zM181 681h1v1h-1zM329 681h1v1h-1zM347 681h1v1h-1zM175 682h1v1h-1zM180 682h1v1h-1zM330 682h1v1h-1zM347 682h1v1h-1zM175 683h1v1h-1zM180 683h1v1h-1zM330 683h1v1h-1zM346 683h1v1h-1zM175 684h1v1h-1zM180 684h1v1h-1zM331 684h1v1h-1zM346 684h1v1h-1zM176 685h2v1h-2zM179 685h1v1h-1zM332 685h1v1h-1zM346 685h1v1h-1zM178 686h2v1h-2zM333 686h1v1h-1zM345 686h1v1h-1zM334 687h1v1h-1zM345 687h1v1h-1zM335 688h1v1h-1zM345 688h1v1h-1zM336 689h1v1h-1zM345 689h1v1h-1zM336 690h1v1h-1zM344 690h1v1h-1zM337 691h1v1h-1zM344 691h1v1h-1zM338 692h1v1h-1zM344 692h1v1h-1zM338 693h1v1h-1zM343 693h1v1h-1zM339 694h5v1h-5z" fill="#20b2aa"/><path d="M253 544h3v1h-3zM259 546h3v1h-3zM283 546h3v1h-3zM250 547h1v1h-1zM265 547h3v1h-3zM249 548h1v1h-1zM271 548h2v1h-2zM277 548h3v1h-3zM289 548h1v1h-1zM248 549h1v1h-1zM273 549h1v1h-1zM290 549h1v1h-1zM411 549h1v1h-1zM291 550h1v1h-1zM409 550h2v1h-2zM415 552h1v1h-1zM246 553h1v1h-1zM404 553h2v1h-2zM415 553h1v1h-1zM246 554h1v1h-1zM293 554h1v1h-1zM403 554h1v1h-1zM416 554h1v1h-1zM246 555h1v1h-1zM293 555h1v1h-1zM58 556h2v1h-2zM293 556h1v1h-1zM399 556h1v1h-1zM60 557h1v1h-1zM397 557h2v1h-2zM417 558h1v1h-1zM54 559h1v1h-1zM244 559h1v1h-1zM418 559h1v1h-1zM53 560h1v1h-1zM93 560h2v1h-2zM244 560h1v1h-1zM295 560h1v1h-1zM418 560h1v1h-1zM53 561h1v1h-1zM63 561h1v1h-1zM92 561h1v1h-1zM243 561h1v1h-1zM295 561h1v1h-1zM394 561h1v1h-1zM64 562h1v1h-1zM296 562h1v1h-1zM393 562h1v1h-1zM64 563h1v1h-1zM97 563h1v1h-1zM393 563h1v1h-1zM48 564h2v1h-2zM88 564h1v1h-1zM98 564h1v1h-1zM420 564h1v1h-1zM47 565h1v1h-1zM87 565h1v1h-1zM99 565h1v1h-1zM114 565h2v1h-2zM242 565h1v1h-1zM420 565h1v1h-1zM86 566h1v1h-1zM116 566h1v1h-1zM242 566h1v1h-1zM297 566h1v1h-1zM420 566h1v1h-1zM66 567h1v1h-1zM110 567h1v1h-1zM241 567h1v1h-1zM297 567h1v1h-1zM390 567h1v1h-1zM43 568h1v1h-1zM67 568h1v1h-1zM108 568h2v1h-2zM297 568h1v1h-1zM389 568h1v1h-1zM42 569h1v1h-1zM68 569h1v1h-1zM102 569h1v1h-1zM388 569h1v1h-1zM41 570h1v1h-1zM83 570h1v1h-1zM103 570h2v1h-2zM118 570h1v1h-1zM421 570h1v1h-1zM82 571h1v1h-1zM118 571h1v1h-1zM240 571h1v1h-1zM421 571h1v1h-1zM81 572h1v1h-1zM119 572h1v1h-1zM240 572h1v1h-1zM298 572h1v1h-1zM422 572h1v1h-1zM497 572h2v1h-2zM70 573h1v1h-1zM239 573h1v1h-1zM299 573h1v1h-1zM386 573h1v1h-1zM496 573h1v1h-1zM37 574h1v1h-1zM71 574h1v1h-1zM299 574h1v1h-1zM385 574h1v1h-1zM502 574h1v1h-1zM37 575h1v1h-1zM72 575h1v1h-1zM78 575h1v1h-1zM385 575h1v1h-1zM503 575h1v1h-1zM36 576h1v1h-1zM76 576h2v1h-2zM120 576h1v1h-1zM423 576h1v1h-1zM493 576h1v1h-1zM504 576h1v1h-1zM24 577h1v1h-1zM121 577h1v1h-1zM238 577h1v1h-1zM423 577h1v1h-1zM493 577h1v1h-1zM25 578h2v1h-2zM121 578h1v1h-1zM238 578h1v1h-1zM300 578h1v1h-1zM423 578h1v1h-1zM492 578h1v1h-1zM22 579h1v1h-1zM238 579h1v1h-1zM300 579h1v1h-1zM383 579h1v1h-1zM21 580h1v1h-1zM32 580h1v1h-1zM301 580h1v1h-1zM382 580h1v1h-1zM507 580h1v1h-1zM21 581h1v1h-1zM30 581h2v1h-2zM382 581h1v1h-1zM508 581h1v1h-1zM123 582h1v1h-1zM424 582h1v1h-1zM491 582h1v1h-1zM508 582h1v1h-1zM123 583h1v1h-1zM237 583h1v1h-1zM425 583h1v1h-1zM491 583h1v1h-1zM124 584h1v1h-1zM237 584h1v1h-1zM302 584h1v1h-1zM425 584h1v1h-1zM490 584h1v1h-1zM19 585h1v1h-1zM237 585h1v1h-1zM302 585h1v1h-1zM381 585h1v1h-1zM18 586h1v1h-1zM302 586h1v1h-1zM381 586h1v1h-1zM509 586h1v1h-1zM18 587h1v1h-1zM381 587h1v1h-1zM509 587h1v1h-1zM125 588h1v1h-1zM426 588h1v1h-1zM490 588h1v1h-1zM509 588h1v1h-1zM125 589h1v1h-1zM236 589h1v1h-1zM426 589h1v1h-1zM490 589h1v1h-1zM125 590h1v1h-1zM236 590h1v1h-1zM304 590h1v1h-1zM426 590h1v1h-1zM490 590h1v1h-1zM17 591h1v1h-1zM236 591h1v1h-1zM304 591h1v1h-1zM380 591h1v1h-1zM16 592h1v1h-1zM304 592h1v1h-1zM379 592h1v1h-1zM510 592h1v1h-1zM16 593h1v1h-1zM379 593h1v1h-1zM511 593h1v1h-1zM126 594h1v1h-1zM428 594h1v1h-1zM489 594h1v1h-1zM511 594h1v1h-1zM126 595h1v1h-1zM235 595h1v1h-1zM428 595h1v1h-1zM489 595h1v1h-1zM127 596h1v1h-1zM235 596h1v1h-1zM305 596h1v1h-1zM428 596h1v1h-1zM489 596h1v1h-1zM563 596h1v1h-1zM591 596h1v1h-1zM15 597h1v1h-1zM235 597h1v1h-1zM306 597h1v1h-1zM378 597h1v1h-1zM562 597h1v1h-1zM587 597h1v1h-1zM591 597h1v1h-1zM15 598h1v1h-1zM306 598h1v1h-1zM377 598h1v1h-1zM512 598h1v1h-1zM562 598h1v1h-1zM567 598h1v1h-1zM587 598h1v1h-1zM591 598h1v1h-1zM15 599h1v1h-1zM377 599h1v1h-1zM512 599h1v1h-1zM567 599h1v1h-1zM587 599h1v1h-1zM127 600h1v1h-1zM430 600h1v1h-1zM488 600h1v1h-1zM512 600h1v1h-1zM568 600h1v1h-1zM128 601h1v1h-1zM234 601h1v1h-1zM430 601h1v1h-1zM488 601h1v1h-1zM128 602h1v1h-1zM234 602h1v1h-1zM307 602h1v1h-1zM431 602h1v1h-1zM488 602h1v1h-1zM559 602h1v1h-1zM592 602h1v1h-1zM14 603h1v1h-1zM234 603h1v1h-1zM308 603h1v1h-1zM376 603h1v1h-1zM559 603h1v1h-1zM586 603h1v1h-1zM593 603h1v1h-1zM14 604h1v1h-1zM308 604h1v1h-1zM376 604h1v1h-1zM513 604h1v1h-1zM558 604h1v1h-1zM569 604h1v1h-1zM585 604h1v1h-1zM593 604h1v1h-1zM14 605h1v1h-1zM375 605h1v1h-1zM513 605h1v1h-1zM569 605h1v1h-1zM585 605h1v1h-1zM129 606h1v1h-1zM432 606h1v1h-1zM487 606h1v1h-1zM513 606h1v1h-1zM569 606h1v1h-1zM129 607h1v1h-1zM233 607h1v1h-1zM433 607h1v1h-1zM487 607h1v1h-1zM129 608h1v1h-1zM233 608h1v1h-1zM310 608h1v1h-1zM433 608h1v1h-1zM487 608h1v1h-1zM556 608h1v1h-1zM594 608h1v1h-1zM13 609h1v1h-1zM233 609h1v1h-1zM310 609h1v1h-1zM375 609h1v1h-1zM556 609h1v1h-1zM584 609h1v1h-1zM594 609h1v1h-1zM13 610h1v1h-1zM310 610h1v1h-1zM374 610h1v1h-1zM514 610h1v1h-1zM555 610h1v1h-1zM570 610h1v1h-1zM584 610h1v1h-1zM594 610h1v1h-1zM13 611h1v1h-1zM374 611h1v1h-1zM514 611h1v1h-1zM570 611h1v1h-1zM584 611h1v1h-1zM130 612h1v1h-1zM435 612h1v1h-1zM486 612h1v1h-1zM514 612h1v1h-1zM571 612h1v1h-1zM130 613h1v1h-1zM232 613h1v1h-1zM436 613h1v1h-1zM486 613h1v1h-1zM131 614h1v1h-1zM232 614h1v1h-1zM312 614h1v1h-1zM436 614h1v1h-1zM486 614h1v1h-1zM554 614h1v1h-1zM595 614h1v1h-1zM12 615h1v1h-1zM232 615h1v1h-1zM312 615h1v1h-1zM374 615h1v1h-1zM554 615h1v1h-1zM583 615h1v1h-1zM595 615h1v1h-1zM12 616h1v1h-1zM313 616h1v1h-1zM373 616h1v1h-1zM515 616h1v1h-1zM553 616h1v1h-1zM572 616h1v1h-1zM582 616h1v1h-1zM595 616h1v1h-1zM12 617h1v1h-1zM373 617h1v1h-1zM515 617h1v1h-1zM572 617h1v1h-1zM582 617h1v1h-1zM132 618h1v1h-1zM438 618h1v1h-1zM485 618h1v1h-1zM515 618h1v1h-1zM572 618h1v1h-1zM132 619h1v1h-1zM231 619h1v1h-1zM439 619h1v1h-1zM485 619h1v1h-1zM132 620h1v1h-1zM231 620h1v1h-1zM314 620h1v1h-1zM439 620h1v1h-1zM485 620h1v1h-1zM552 620h1v1h-1zM596 620h1v1h-1zM11 621h1v1h-1zM231 621h1v1h-1zM315 621h1v1h-1zM373 621h1v1h-1zM552 621h1v1h-1zM581 621h1v1h-1zM597 621h1v1h-1zM11 622h1v1h-1zM315 622h1v1h-1zM373 622h1v1h-1zM515 622h1v1h-1zM552 622h1v1h-1zM574 622h1v1h-1zM580 622h1v1h-1zM597 622h1v1h-1zM11 623h1v1h-1zM372 623h1v1h-1zM516 623h1v1h-1zM574 623h1v1h-1zM580 623h1v1h-1zM133 624h1v1h-1zM440 624h1v1h-1zM484 624h1v1h-1zM516 624h1v1h-1zM574 624h1v1h-1zM133 625h1v1h-1zM230 625h1v1h-1zM440 625h1v1h-1zM484 625h1v1h-1zM134 626h1v1h-1zM230 626h1v1h-1zM316 626h1v1h-1zM441 626h1v1h-1zM469 626h1v1h-1zM483 626h1v1h-1zM551 626h1v1h-1zM577 626h2v1h-2zM598 626h1v1h-1zM3 627h1v1h-1zM9 627h1v1h-1zM230 627h1v1h-1zM317 627h1v1h-1zM372 627h1v1h-1zM467 627h2v1h-2zM551 627h1v1h-1zM576 627h1v1h-1zM598 627h1v1h-1zM4 628h1v1h-1zM9 628h1v1h-1zM317 628h1v1h-1zM372 628h1v1h-1zM472 628h1v1h-1zM516 628h1v1h-1zM550 628h1v1h-1zM598 628h1v1h-1zM4 629h1v1h-1zM9 629h1v1h-1zM371 629h1v1h-1zM473 629h1v1h-1zM517 629h1v1h-1zM135 630h1v1h-1zM442 630h1v1h-1zM474 630h1v1h-1zM482 630h1v1h-1zM517 630h1v1h-1zM135 631h1v1h-1zM229 631h1v1h-1zM442 631h1v1h-1zM466 631h1v1h-1zM482 631h1v1h-1zM135 632h1v1h-1zM229 632h1v1h-1zM318 632h1v1h-1zM442 632h1v1h-1zM465 632h1v1h-1zM482 632h1v1h-1zM549 632h1v1h-1zM6 633h2v1h-2zM229 633h1v1h-1zM318 633h1v1h-1zM371 633h1v1h-1zM465 633h1v1h-1zM549 633h1v1h-1zM7 634h1v1h-1zM319 634h1v1h-1zM370 634h1v1h-1zM476 634h1v1h-1zM517 634h1v1h-1zM549 634h1v1h-1zM370 635h1v1h-1zM477 635h1v1h-1zM517 635h1v1h-1zM136 636h1v1h-1zM444 636h1v1h-1zM477 636h1v1h-1zM480 636h1v1h-1zM518 636h1v1h-1zM137 637h1v1h-1zM228 637h1v1h-1zM444 637h1v1h-1zM463 637h1v1h-1zM480 637h1v1h-1zM137 638h1v1h-1zM228 638h1v1h-1zM320 638h1v1h-1zM444 638h1v1h-1zM463 638h1v1h-1zM479 638h1v1h-1zM548 638h1v1h-1zM228 639h1v1h-1zM320 639h1v1h-1zM369 639h1v1h-1zM463 639h1v1h-1zM548 639h1v1h-1zM321 640h1v1h-1zM369 640h1v1h-1zM518 640h1v1h-1zM547 640h1v1h-1zM368 641h1v1h-1zM518 641h1v1h-1zM138 642h1v1h-1zM155 642h1v1h-1zM445 642h1v1h-1zM519 642h1v1h-1zM138 643h1v1h-1zM154 643h1v1h-1zM158 643h1v1h-1zM228 643h1v1h-1zM446 643h1v1h-1zM461 643h1v1h-1zM138 644h1v1h-1zM154 644h1v1h-1zM159 644h1v1h-1zM228 644h1v1h-1zM322 644h1v1h-1zM446 644h1v1h-1zM461 644h1v1h-1zM546 644h1v1h-1zM160 645h1v1h-1zM227 645h1v1h-1zM322 645h1v1h-1zM367 645h1v1h-1zM460 645h1v1h-1zM546 645h1v1h-1zM322 646h1v1h-1zM366 646h1v1h-1zM519 646h1v1h-1zM546 646h1v1h-1zM366 647h1v1h-1zM519 647h1v1h-1zM140 648h1v1h-1zM152 648h1v1h-1zM447 648h1v1h-1zM520 648h1v1h-1zM140 649h1v1h-1zM152 649h1v1h-1zM162 649h1v1h-1zM227 649h1v1h-1zM447 649h1v1h-1zM459 649h1v1h-1zM140 650h1v1h-1zM152 650h1v1h-1zM162 650h1v1h-1zM227 650h1v1h-1zM324 650h1v1h-1zM448 650h1v1h-1zM458 650h1v1h-1zM545 650h1v1h-1zM163 651h1v1h-1zM226 651h1v1h-1zM324 651h1v1h-1zM364 651h1v1h-1zM458 651h1v1h-1zM545 651h1v1h-1zM324 652h1v1h-1zM363 652h1v1h-1zM521 652h1v1h-1zM544 652h1v1h-1zM362 653h1v1h-1zM521 653h1v1h-1zM141 654h1v1h-1zM150 654h1v1h-1zM450 654h1v1h-1zM521 654h1v1h-1zM142 655h1v1h-1zM149 655h1v1h-1zM164 655h1v1h-1zM226 655h1v1h-1zM450 655h1v1h-1zM456 655h1v1h-1zM142 656h1v1h-1zM148 656h1v1h-1zM165 656h1v1h-1zM226 656h1v1h-1zM325 656h1v1h-1zM451 656h1v1h-1zM454 656h2v1h-2zM543 656h1v1h-1zM165 657h1v1h-1zM225 657h1v1h-1zM326 657h1v1h-1zM359 657h1v1h-1zM543 657h1v1h-1zM326 658h1v1h-1zM358 658h1v1h-1zM522 658h1v1h-1zM542 658h1v1h-1zM144 659h2v1h-2zM358 659h1v1h-1zM522 659h1v1h-1zM531 659h1v1h-1zM143 660h1v1h-1zM522 660h1v1h-1zM530 660h1v1h-1zM532 660h1v1h-1zM538 660h1v1h-1zM167 661h1v1h-1zM225 661h1v1h-1zM536 661h2v1h-2zM167 662h1v1h-1zM225 662h1v1h-1zM327 662h1v1h-1zM168 663h1v1h-1zM224 663h1v1h-1zM327 663h1v1h-1zM356 663h1v1h-1zM524 663h3v1h-3zM328 664h1v1h-1zM356 664h1v1h-1zM205 665h1v1h-1zM355 665h1v1h-1zM203 666h2v1h-2zM172 667h1v1h-1zM209 667h1v1h-1zM224 667h1v1h-1zM172 668h1v1h-1zM210 668h1v1h-1zM224 668h1v1h-1zM329 668h1v1h-1zM173 669h1v1h-1zM197 669h3v1h-3zM211 669h1v1h-1zM223 669h1v1h-1zM329 669h1v1h-1zM354 669h1v1h-1zM193 670h1v1h-1zM330 670h1v1h-1zM354 670h1v1h-1zM191 671h2v1h-2zM353 671h1v1h-1zM175 673h1v1h-1zM215 673h1v1h-1zM222 673h1v1h-1zM176 674h1v1h-1zM216 674h1v1h-1zM221 674h1v1h-1zM331 674h1v1h-1zM176 675h1v1h-1zM187 675h1v1h-1zM217 675h1v1h-1zM220 675h1v1h-1zM331 675h1v1h-1zM352 675h1v1h-1zM186 676h1v1h-1zM332 676h1v1h-1zM352 676h1v1h-1zM185 677h1v1h-1zM352 677h1v1h-1zM179 679h3v1h-3zM333 680h1v1h-1zM334 681h1v1h-1zM350 681h1v1h-1zM334 682h1v1h-1zM350 682h1v1h-1zM349 683h1v1h-1zM336 686h1v1h-1zM337 687h1v1h-1zM347 687h1v1h-1zM338 688h1v1h-1zM347 688h1v1h-1zM346 689h1v1h-1zM341 692h2v1h-2zM343 693h1v1h-1z" fill="#ff0000"/><g fill="#000"><rect x="2" y="2" width="673" height="1"/><rect x="2" y="359" width="673" height="1"/><rect x="2" y="2" width="1" height="358"/><rect x="674" y="2" width="1" height="358"/><rect x="2" y="361" width="673" height="1"/><rect x="2" y="533" width="673" height="1"/><rect x="2" y="361" width="1" height="173"/><rect x="674" y="361" width="1" height="173"/><rect x="2" y="535" width="673" height="1"/><rect x="2" y="711" width="673" height="1"/><rect x="2" y="535" width="1" height="177"/><rect x="674" y="535" width="1" height="177"/><rect x="675" y="26" width="2" height="1"/><rect x="675" y="59" width="2" height="1"/><rect x="675" y="92" width="2" height="1"/><rect x="675" y="125" width="2" height="1"/><rect x="675" y="158" width="2" height="1"/><rect x="675" y="191" width="2" height="1"/><rect x="675" y="224" width="2" height="1"/><rect x="675" y="257" width="2" height="1"/><rect x="675" y="290" width="2" height="1"/><rect x="675" y="323" width="2" height="1"/><rect x="675" y="356" width="2" height="1"/><rect x="675" y="363" width="1" height="1"/><rect x="675" y="468" width="1" height="1"/><rect x="675" y="532" width="1" height="1"/><rect x="675" y="537" width="1" height="1"/><rect x="3" y="712" width="1" height="3"/><rect x="67" y="712" width="1" height="3"/><rect x="131" y="712" width="1" height="3"/><rect x="195" y="712" width="1" height="3"/><rect x="259" y="712" width="1" height="3"/><rect x="323" y="712" width="1" height="3"/><rect x="387" y="712" width="1" height="3"/><rect x="451" y="712" width="1" height="3"/><rect x="515" y="712" width="1" height="3"/><rect x="579" y="712" width="1" height="3"/></g><polygon points="6,9 13,9 9.5,13" fill="#000" shape-rendering="auto"/><g font-family="'Liberation Sans', sans-serif" font-size="10" stroke-width="0.2" style="white-space:pre" shape-rendering="auto"><text x="680.5" y="29" fill="#000" stroke="#000" textLength="32" lengthAdjust="spacingAndGlyphs" xml:space="preserve">1.68500</text><text x="680.5" y="128" fill="#000" stroke="#000" textLength="32" lengthAdjust="spacingAndGlyphs" xml:space="preserve">1.67370</text><text x="680.5" y="227" fill="#000" stroke="#000" textLength="32" lengthAdjust="spacingAndGlyphs" xml:space="preserve">1.66240</text><text x="680.5" y="260" fill="#000" stroke="#000" textLength="32" lengthAdjust="spacingAndGlyphs" xml:space="preserve">1.65860</text><text x="680.5" y="326" fill="#000" stroke="#000" textLength="32" lengthAdjust="spacingAndGlyphs" xml:space="preserve">1.65110</text><text x="680.5" y="359" fill="#000" stroke="#000" textLength="32" lengthAdjust="spacingAndGlyphs" xml:space="preserve">1.64730</text></g><g font-family="'Liberation Sans', sans-serif" font-size="10" stroke-width="0.2" style="white-space:pre"><rect x="676" y="29" width="41" height="11" fill="#90ee90"/><text x="680.5" y="38" fill="#fff" stroke="#fff" textLength="32" lengthAdjust="spacingAndGlyphs" xml:space="preserve">1.68400</text><rect x="676" y="64" width="41" height="11" fill="#90ee90"/><text x="680.5" y="73" fill="#fff" stroke="#fff" textLength="32" lengthAdjust="spacingAndGlyphs" xml:space="preserve">1.68000</text><rect x="676" y="88" width="41" height="11" fill="#90ee90"/><text x="680.5" y="97" fill="#fff" stroke="#fff" textLength="32" lengthAdjust="spacingAndGlyphs" xml:space="preserve">1.67725</text><rect x="676" y="114" width="41" height="11" fill="#90ee90"/><text x="680.5" y="123" fill="#fff" stroke="#fff" textLength="32" lengthAdjust="spacingAndGlyphs" xml:space="preserve">1.67425</text><rect x="676" y="138" width="41" height="11" fill="#90ee90"/><text x="680.5" y="147" fill="#fff" stroke="#fff" textLength="32" lengthAdjust="spacingAndGlyphs" xml:space="preserve">1.67150</text><rect x="676" y="151" width="41" height="11" fill="#90ee90"/><text x="680.5" y="160" fill="#fff" stroke="#fff" textLength="32" lengthAdjust="spacingAndGlyphs" xml:space="preserve">1.67000</text><rect x="676" y="169" width="41" height="11" fill="#90ee90"/><text x="680.5" y="178" fill="#fff" stroke="#fff" textLength="32" lengthAdjust="spacingAndGlyphs" xml:space="preserve">1.66800</text><rect x="676" y="186" width="41" height="11" fill="#90ee90"/><text x="680.5" y="195" fill="#fff" stroke="#fff" textLength="32" lengthAdjust="spacingAndGlyphs" xml:space="preserve">1.66600</text><rect x="676" y="221" width="41" height="11" fill="#90ee90"/><text x="680.5" y="230" fill="#fff" stroke="#fff" textLength="32" lengthAdjust="spacingAndGlyphs" xml:space="preserve">1.66200</text><rect x="676" y="243" width="41" height="11" fill="#90ee90"/><text x="680.5" y="252" fill="#fff" stroke="#fff" textLength="32" lengthAdjust="spacingAndGlyphs" xml:space="preserve">1.65950</text><rect x="676" y="267" width="41" height="11" fill="#90ee90"/><text x="680.5" y="276" fill="#fff" stroke="#fff" textLength="32" lengthAdjust="spacingAndGlyphs" xml:space="preserve">1.65675</text><rect x="676" y="283" width="41" height="11" fill="#90ee90"/><text x="680.5" y="292" fill="#fff" stroke="#fff" textLength="32" lengthAdjust="spacingAndGlyphs" xml:space="preserve">1.65500</text><rect x="676" y="296" width="41" height="11" fill="#90ee90"/><text x="680.5" y="305" fill="#fff" stroke="#fff" textLength="32" lengthAdjust="spacingAndGlyphs" xml:space="preserve">1.65350</text><rect x="676" y="320" width="41" height="11" fill="#90ee90"/><text x="680.5" y="329" fill="#fff" stroke="#fff" textLength="32" lengthAdjust="spacingAndGlyphs" xml:space="preserve">1.65075</text><rect x="676" y="344" width="41" height="11" fill="#90ee90"/><text x="680.5" y="353" fill="#fff" stroke="#fff" textLength="32" lengthAdjust="spacingAndGlyphs" xml:space="preserve">1.64800</text><rect x="676" y="14" width="41" height="11" fill="#008080"/><text x="680.5" y="23" fill="#fff" stroke="#fff" textLength="32" lengthAdjust="spacingAndGlyphs" xml:space="preserve">1.68575</text><rect x="676" y="51" width="41" height="11" fill="#000000"/><text x="680.5" y="60" fill="#fff" stroke="#fff" textLength="32" lengthAdjust="spacingAndGlyphs" xml:space="preserve">1.68143</text></g><g font-family="'Liberation Sans', sans-serif" font-size="10" stroke-width="0.2" style="white-space:pre"><text x="678" y="372" fill="#000" stroke="#000" textLength="37.4" lengthAdjust="spacingAndGlyphs" xml:space="preserve">0.005178</text><text x="678" y="471" fill="#000" stroke="#000" textLength="17.8" lengthAdjust="spacingAndGlyphs" xml:space="preserve">0.00</text><text x="678" y="530" fill="#000" stroke="#000" textLength="39" lengthAdjust="spacingAndGlyphs" xml:space="preserve">-0.003179</text><text x="678.5" y="546" fill="#000" stroke="#000" textLength="15.5" lengthAdjust="spacingAndGlyphs" xml:space="preserve">100</text><text x="677.3" y="574" fill="#000" stroke="#000" textLength="10" lengthAdjust="spacingAndGlyphs" xml:space="preserve">80</text><text x="677.3" y="679" fill="#000" stroke="#000" textLength="10" lengthAdjust="spacingAndGlyphs" xml:space="preserve">20</text><text x="678.5" y="708" fill="#000" stroke="#000" textLength="5" lengthAdjust="spacingAndGlyphs" xml:space="preserve">0</text><text x="18" y="14" fill="#000" stroke="#000" textLength="200.6" lengthAdjust="spacingAndGlyphs" xml:space="preserve">GBPUSD,H4  1.68134 1.68163 1.68097 1.68143</text><text x="7.5" y="374" fill="#000" stroke="#000" textLength="147" lengthAdjust="spacingAndGlyphs" xml:space="preserve">MACD(12,26,9) 0.000497 0.000366</text><text x="7" y="548" fill="#000" stroke="#000" textLength="126.5" lengthAdjust="spacingAndGlyphs" xml:space="preserve">Stoch(13,3,3) 42.7563 45.3247</text><text x="7.8" y="707" fill="#000" stroke="#000" textLength="228.3" lengthAdjust="spacingAndGlyphs" xml:space="preserve">FxPro MT4, © 2001-2014, MetaQuotes Software Corp.</text><text x="2" y="724" fill="#000" stroke="#000" textLength="51.6" lengthAdjust="spacingAndGlyphs" xml:space="preserve">25 Mar 2014</text><text x="66.4" y="724" fill="#000" stroke="#000" textLength="54" lengthAdjust="spacingAndGlyphs" xml:space="preserve">28 Mar 00:00</text><text x="130.3" y="724" fill="#000" stroke="#000" textLength="48.3" lengthAdjust="spacingAndGlyphs" xml:space="preserve">1 Apr 16:00</text><text x="193.9" y="724" fill="#000" stroke="#000" textLength="48.8" lengthAdjust="spacingAndGlyphs" xml:space="preserve">4 Apr 08:00</text><text x="258" y="724" fill="#000" stroke="#000" textLength="48.8" lengthAdjust="spacingAndGlyphs" xml:space="preserve">9 Apr 00:00</text><text x="322.3" y="724" fill="#000" stroke="#000" textLength="53.7" lengthAdjust="spacingAndGlyphs" xml:space="preserve">11 Apr 16:00</text><text x="386.4" y="724" fill="#000" stroke="#000" textLength="53.1" lengthAdjust="spacingAndGlyphs" xml:space="preserve">16 Apr 08:00</text><text x="450.3" y="724" fill="#000" stroke="#000" textLength="53.5" lengthAdjust="spacingAndGlyphs" xml:space="preserve">21 Apr 00:00</text><text x="514.4" y="724" fill="#000" stroke="#000" textLength="53.3" lengthAdjust="spacingAndGlyphs" xml:space="preserve">23 Apr 16:00</text><text x="578.3" y="724" fill="#000" stroke="#000" textLength="53.5" lengthAdjust="spacingAndGlyphs" xml:space="preserve">28 Apr 08:00</text></g></svg></body></html>
